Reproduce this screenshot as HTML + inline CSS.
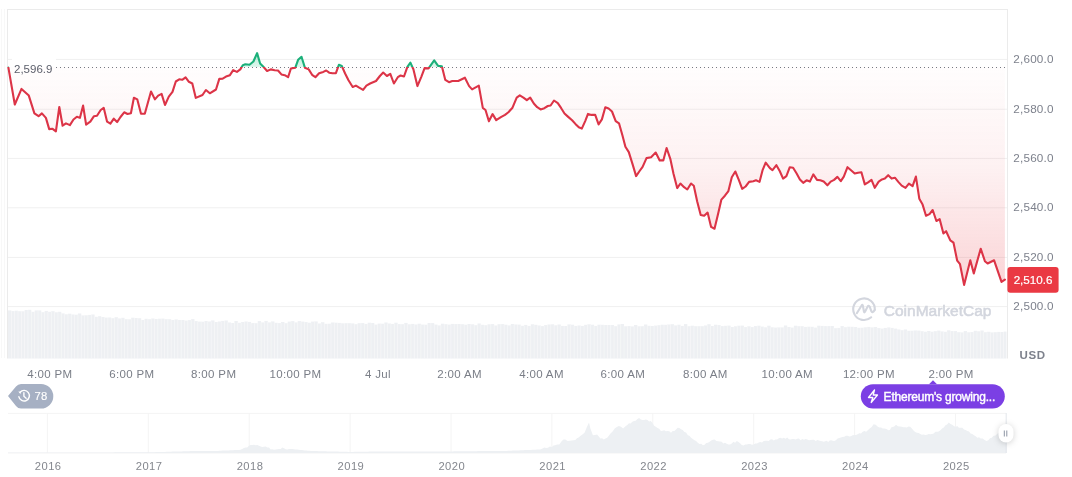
<!DOCTYPE html>
<html><head><meta charset="utf-8">
<style>
html,body{margin:0;padding:0;background:#fff;width:1072px;height:477px;overflow:hidden}
svg{position:absolute;left:0;top:0;display:block;will-change:transform}
text{font-family:"Liberation Sans",sans-serif}
</style></head><body>
<svg width="1072" height="477" viewBox="0 0 1072 477">
<defs>
<linearGradient id="rg" x1="0" y1="67" x2="0" y2="290" gradientUnits="userSpaceOnUse">
<stop offset="0" stop-color="#ea3943" stop-opacity="0.01"/>
<stop offset="0.45" stop-color="#ea3943" stop-opacity="0.07"/>
<stop offset="1" stop-color="#ea3943" stop-opacity="0.22"/>
</linearGradient>
<linearGradient id="gg" x1="0" y1="50" x2="0" y2="67" gradientUnits="userSpaceOnUse">
<stop offset="0" stop-color="#16c784" stop-opacity="0.3"/>
<stop offset="1" stop-color="#16c784" stop-opacity="0.15"/>
</linearGradient>
<clipPath id="below"><rect x="0" y="67.0" width="1072" height="400"/></clipPath>
<clipPath id="above"><rect x="0" y="0" width="1072" height="67.0"/></clipPath>
</defs>
<!-- frame -->
<g stroke="#ebebeb" stroke-width="1" fill="none">
<line x1="7.5" y1="9.5" x2="1007.5" y2="9.5"/>
<line x1="7.5" y1="9" x2="7.5" y2="358.5"/>
<line x1="1007.5" y1="9" x2="1007.5" y2="358.5"/>
</g>
<g stroke="#f8f8f8" stroke-width="1">
<line x1="1.5" y1="9" x2="1.5" y2="358"/>
<line x1="4.5" y1="9" x2="4.5" y2="358"/>
</g>
<!-- grid -->
<g stroke="#f0f0f0" stroke-width="1">
<line x1="8" y1="59.4" x2="1007" y2="59.4"/><line x1="8" y1="109.2" x2="1007" y2="109.2"/><line x1="8" y1="158.4" x2="1007" y2="158.4"/><line x1="8" y1="207.8" x2="1007" y2="207.8"/><line x1="8" y1="257.4" x2="1007" y2="257.4"/><line x1="8" y1="306.6" x2="1007" y2="306.6"/>
</g>
<!-- volume -->
<g>
<rect x="8.00" y="310.4" width="3.33" height="48.1" fill="#eef0f3"/>
<rect x="11.33" y="311.1" width="3.33" height="47.4" fill="#eef0f3"/>
<rect x="14.66" y="310.7" width="3.33" height="47.8" fill="#eef0f3"/>
<rect x="17.99" y="311.2" width="3.33" height="47.3" fill="#eef0f3"/>
<rect x="21.32" y="311.3" width="3.33" height="47.2" fill="#eef0f3"/>
<rect x="24.65" y="310.0" width="3.33" height="48.5" fill="#eef0f3"/>
<rect x="27.98" y="309.8" width="3.33" height="48.7" fill="#eef0f3"/>
<rect x="31.31" y="311.8" width="3.33" height="46.7" fill="#eef0f3"/>
<rect x="34.64" y="310.4" width="3.33" height="48.1" fill="#eef0f3"/>
<rect x="37.97" y="310.4" width="3.33" height="48.1" fill="#eef0f3"/>
<rect x="41.30" y="312.2" width="3.33" height="46.3" fill="#eef0f3"/>
<rect x="44.63" y="310.9" width="3.33" height="47.6" fill="#eef0f3"/>
<rect x="47.96" y="311.8" width="3.33" height="46.7" fill="#eef0f3"/>
<rect x="51.29" y="311.2" width="3.33" height="47.3" fill="#eef0f3"/>
<rect x="54.62" y="312.3" width="3.33" height="46.2" fill="#eef0f3"/>
<rect x="57.95" y="311.8" width="3.33" height="46.7" fill="#eef0f3"/>
<rect x="61.28" y="313.4" width="3.33" height="45.1" fill="#eef0f3"/>
<rect x="64.61" y="314.3" width="3.33" height="44.2" fill="#eef0f3"/>
<rect x="67.94" y="313.7" width="3.33" height="44.8" fill="#eef0f3"/>
<rect x="71.27" y="314.5" width="3.33" height="44.0" fill="#eef0f3"/>
<rect x="74.60" y="314.7" width="3.33" height="43.8" fill="#eef0f3"/>
<rect x="77.93" y="313.5" width="3.33" height="45.0" fill="#eef0f3"/>
<rect x="81.26" y="315.4" width="3.33" height="43.1" fill="#eef0f3"/>
<rect x="84.59" y="315.3" width="3.33" height="43.2" fill="#eef0f3"/>
<rect x="87.92" y="314.9" width="3.33" height="43.6" fill="#eef0f3"/>
<rect x="91.25" y="314.5" width="3.33" height="44.0" fill="#eef0f3"/>
<rect x="94.58" y="316.8" width="3.33" height="41.7" fill="#eef0f3"/>
<rect x="97.91" y="316.2" width="3.33" height="42.3" fill="#eef0f3"/>
<rect x="101.24" y="317.0" width="3.33" height="41.5" fill="#eef0f3"/>
<rect x="104.57" y="317.6" width="3.33" height="40.9" fill="#eef0f3"/>
<rect x="107.90" y="317.5" width="3.33" height="41.0" fill="#eef0f3"/>
<rect x="111.23" y="318.2" width="3.33" height="40.3" fill="#eef0f3"/>
<rect x="114.56" y="317.2" width="3.33" height="41.3" fill="#eef0f3"/>
<rect x="117.89" y="318.4" width="3.33" height="40.1" fill="#eef0f3"/>
<rect x="121.22" y="317.8" width="3.33" height="40.7" fill="#eef0f3"/>
<rect x="124.55" y="319.2" width="3.33" height="39.3" fill="#eef0f3"/>
<rect x="127.88" y="319.3" width="3.33" height="39.2" fill="#eef0f3"/>
<rect x="131.21" y="317.7" width="3.33" height="40.8" fill="#eef0f3"/>
<rect x="134.54" y="318.0" width="3.33" height="40.5" fill="#eef0f3"/>
<rect x="137.87" y="318.2" width="3.33" height="40.3" fill="#eef0f3"/>
<rect x="141.20" y="320.0" width="3.33" height="38.5" fill="#eef0f3"/>
<rect x="144.53" y="318.8" width="3.33" height="39.7" fill="#eef0f3"/>
<rect x="147.86" y="319.2" width="3.33" height="39.3" fill="#eef0f3"/>
<rect x="151.19" y="318.5" width="3.33" height="40.0" fill="#eef0f3"/>
<rect x="154.52" y="319.0" width="3.33" height="39.5" fill="#eef0f3"/>
<rect x="157.85" y="318.7" width="3.33" height="39.8" fill="#eef0f3"/>
<rect x="161.18" y="318.6" width="3.33" height="39.9" fill="#eef0f3"/>
<rect x="164.51" y="319.2" width="3.33" height="39.3" fill="#eef0f3"/>
<rect x="167.84" y="319.2" width="3.33" height="39.3" fill="#eef0f3"/>
<rect x="171.17" y="320.0" width="3.33" height="38.5" fill="#eef0f3"/>
<rect x="174.50" y="319.4" width="3.33" height="39.1" fill="#eef0f3"/>
<rect x="177.83" y="320.0" width="3.33" height="38.5" fill="#eef0f3"/>
<rect x="181.16" y="320.0" width="3.33" height="38.5" fill="#eef0f3"/>
<rect x="184.49" y="320.6" width="3.33" height="37.9" fill="#eef0f3"/>
<rect x="187.82" y="320.1" width="3.33" height="38.4" fill="#eef0f3"/>
<rect x="191.15" y="319.1" width="3.33" height="39.4" fill="#eef0f3"/>
<rect x="194.48" y="321.1" width="3.33" height="37.4" fill="#eef0f3"/>
<rect x="197.81" y="321.6" width="3.33" height="36.9" fill="#eef0f3"/>
<rect x="201.14" y="321.7" width="3.33" height="36.8" fill="#eef0f3"/>
<rect x="204.47" y="321.0" width="3.33" height="37.5" fill="#eef0f3"/>
<rect x="207.80" y="321.5" width="3.33" height="37.0" fill="#eef0f3"/>
<rect x="211.13" y="320.4" width="3.33" height="38.1" fill="#eef0f3"/>
<rect x="214.46" y="322.0" width="3.33" height="36.5" fill="#eef0f3"/>
<rect x="217.79" y="321.5" width="3.33" height="37.0" fill="#eef0f3"/>
<rect x="221.12" y="320.9" width="3.33" height="37.6" fill="#eef0f3"/>
<rect x="224.45" y="320.5" width="3.33" height="38.0" fill="#eef0f3"/>
<rect x="227.78" y="322.5" width="3.33" height="36.0" fill="#eef0f3"/>
<rect x="231.11" y="323.0" width="3.33" height="35.5" fill="#eef0f3"/>
<rect x="234.44" y="321.0" width="3.33" height="37.5" fill="#eef0f3"/>
<rect x="237.77" y="322.8" width="3.33" height="35.7" fill="#eef0f3"/>
<rect x="241.10" y="322.0" width="3.33" height="36.5" fill="#eef0f3"/>
<rect x="244.43" y="321.5" width="3.33" height="37.0" fill="#eef0f3"/>
<rect x="247.76" y="321.9" width="3.33" height="36.6" fill="#eef0f3"/>
<rect x="251.09" y="323.1" width="3.33" height="35.4" fill="#eef0f3"/>
<rect x="254.42" y="323.2" width="3.33" height="35.3" fill="#eef0f3"/>
<rect x="257.75" y="321.1" width="3.33" height="37.4" fill="#eef0f3"/>
<rect x="261.08" y="322.4" width="3.33" height="36.1" fill="#eef0f3"/>
<rect x="264.41" y="320.9" width="3.33" height="37.6" fill="#eef0f3"/>
<rect x="267.74" y="322.4" width="3.33" height="36.1" fill="#eef0f3"/>
<rect x="271.07" y="321.4" width="3.33" height="37.1" fill="#eef0f3"/>
<rect x="274.40" y="322.8" width="3.33" height="35.7" fill="#eef0f3"/>
<rect x="277.73" y="323.1" width="3.33" height="35.4" fill="#eef0f3"/>
<rect x="281.06" y="322.0" width="3.33" height="36.5" fill="#eef0f3"/>
<rect x="284.39" y="323.2" width="3.33" height="35.3" fill="#eef0f3"/>
<rect x="287.72" y="321.6" width="3.33" height="36.9" fill="#eef0f3"/>
<rect x="291.05" y="321.1" width="3.33" height="37.4" fill="#eef0f3"/>
<rect x="294.38" y="322.4" width="3.33" height="36.1" fill="#eef0f3"/>
<rect x="297.71" y="321.1" width="3.33" height="37.4" fill="#eef0f3"/>
<rect x="301.04" y="321.6" width="3.33" height="36.9" fill="#eef0f3"/>
<rect x="304.37" y="322.1" width="3.33" height="36.4" fill="#eef0f3"/>
<rect x="307.70" y="322.7" width="3.33" height="35.8" fill="#eef0f3"/>
<rect x="311.03" y="321.6" width="3.33" height="36.9" fill="#eef0f3"/>
<rect x="314.36" y="321.4" width="3.33" height="37.1" fill="#eef0f3"/>
<rect x="317.69" y="323.5" width="3.33" height="35.0" fill="#eef0f3"/>
<rect x="321.02" y="322.2" width="3.33" height="36.3" fill="#eef0f3"/>
<rect x="324.35" y="323.8" width="3.33" height="34.7" fill="#eef0f3"/>
<rect x="327.68" y="323.7" width="3.33" height="34.8" fill="#eef0f3"/>
<rect x="331.01" y="322.5" width="3.33" height="36.0" fill="#eef0f3"/>
<rect x="334.34" y="322.7" width="3.33" height="35.8" fill="#eef0f3"/>
<rect x="337.67" y="322.9" width="3.33" height="35.6" fill="#eef0f3"/>
<rect x="341.00" y="323.3" width="3.33" height="35.2" fill="#eef0f3"/>
<rect x="344.33" y="323.2" width="3.33" height="35.3" fill="#eef0f3"/>
<rect x="347.66" y="323.2" width="3.33" height="35.3" fill="#eef0f3"/>
<rect x="350.99" y="323.4" width="3.33" height="35.1" fill="#eef0f3"/>
<rect x="354.32" y="324.2" width="3.33" height="34.3" fill="#eef0f3"/>
<rect x="357.65" y="323.2" width="3.33" height="35.3" fill="#eef0f3"/>
<rect x="360.98" y="323.1" width="3.33" height="35.4" fill="#eef0f3"/>
<rect x="364.31" y="323.9" width="3.33" height="34.6" fill="#eef0f3"/>
<rect x="367.64" y="322.7" width="3.33" height="35.8" fill="#eef0f3"/>
<rect x="370.97" y="323.0" width="3.33" height="35.5" fill="#eef0f3"/>
<rect x="374.30" y="324.6" width="3.33" height="33.9" fill="#eef0f3"/>
<rect x="377.63" y="323.6" width="3.33" height="34.9" fill="#eef0f3"/>
<rect x="380.96" y="323.7" width="3.33" height="34.8" fill="#eef0f3"/>
<rect x="384.29" y="322.5" width="3.33" height="36.0" fill="#eef0f3"/>
<rect x="387.62" y="323.5" width="3.33" height="35.0" fill="#eef0f3"/>
<rect x="390.95" y="323.9" width="3.33" height="34.6" fill="#eef0f3"/>
<rect x="394.28" y="322.7" width="3.33" height="35.8" fill="#eef0f3"/>
<rect x="397.61" y="324.1" width="3.33" height="34.4" fill="#eef0f3"/>
<rect x="400.94" y="324.2" width="3.33" height="34.3" fill="#eef0f3"/>
<rect x="404.27" y="322.9" width="3.33" height="35.6" fill="#eef0f3"/>
<rect x="407.60" y="324.3" width="3.33" height="34.2" fill="#eef0f3"/>
<rect x="410.93" y="323.9" width="3.33" height="34.6" fill="#eef0f3"/>
<rect x="414.26" y="324.5" width="3.33" height="34.0" fill="#eef0f3"/>
<rect x="417.59" y="323.7" width="3.33" height="34.8" fill="#eef0f3"/>
<rect x="420.92" y="324.6" width="3.33" height="33.9" fill="#eef0f3"/>
<rect x="424.25" y="324.7" width="3.33" height="33.8" fill="#eef0f3"/>
<rect x="427.58" y="323.0" width="3.33" height="35.5" fill="#eef0f3"/>
<rect x="430.91" y="323.1" width="3.33" height="35.4" fill="#eef0f3"/>
<rect x="434.24" y="324.6" width="3.33" height="33.9" fill="#eef0f3"/>
<rect x="437.57" y="325.4" width="3.33" height="33.1" fill="#eef0f3"/>
<rect x="440.90" y="323.7" width="3.33" height="34.8" fill="#eef0f3"/>
<rect x="444.23" y="324.2" width="3.33" height="34.3" fill="#eef0f3"/>
<rect x="447.56" y="324.6" width="3.33" height="33.9" fill="#eef0f3"/>
<rect x="450.89" y="323.9" width="3.33" height="34.6" fill="#eef0f3"/>
<rect x="454.22" y="324.1" width="3.33" height="34.4" fill="#eef0f3"/>
<rect x="457.55" y="324.0" width="3.33" height="34.5" fill="#eef0f3"/>
<rect x="460.88" y="324.2" width="3.33" height="34.3" fill="#eef0f3"/>
<rect x="464.21" y="324.7" width="3.33" height="33.8" fill="#eef0f3"/>
<rect x="467.54" y="324.0" width="3.33" height="34.5" fill="#eef0f3"/>
<rect x="470.87" y="324.3" width="3.33" height="34.2" fill="#eef0f3"/>
<rect x="474.20" y="325.2" width="3.33" height="33.3" fill="#eef0f3"/>
<rect x="477.53" y="323.5" width="3.33" height="35.0" fill="#eef0f3"/>
<rect x="480.86" y="324.8" width="3.33" height="33.7" fill="#eef0f3"/>
<rect x="484.19" y="325.2" width="3.33" height="33.3" fill="#eef0f3"/>
<rect x="487.52" y="324.3" width="3.33" height="34.2" fill="#eef0f3"/>
<rect x="490.85" y="324.1" width="3.33" height="34.4" fill="#eef0f3"/>
<rect x="494.18" y="325.5" width="3.33" height="33.0" fill="#eef0f3"/>
<rect x="497.51" y="324.2" width="3.33" height="34.3" fill="#eef0f3"/>
<rect x="500.84" y="324.1" width="3.33" height="34.4" fill="#eef0f3"/>
<rect x="504.17" y="324.7" width="3.33" height="33.8" fill="#eef0f3"/>
<rect x="507.50" y="325.4" width="3.33" height="33.1" fill="#eef0f3"/>
<rect x="510.83" y="324.0" width="3.33" height="34.5" fill="#eef0f3"/>
<rect x="514.16" y="324.5" width="3.33" height="34.0" fill="#eef0f3"/>
<rect x="517.49" y="324.6" width="3.33" height="33.9" fill="#eef0f3"/>
<rect x="520.82" y="325.8" width="3.33" height="32.7" fill="#eef0f3"/>
<rect x="524.15" y="324.9" width="3.33" height="33.6" fill="#eef0f3"/>
<rect x="527.48" y="325.9" width="3.33" height="32.6" fill="#eef0f3"/>
<rect x="530.81" y="324.3" width="3.33" height="34.2" fill="#eef0f3"/>
<rect x="534.14" y="324.8" width="3.33" height="33.7" fill="#eef0f3"/>
<rect x="537.47" y="325.5" width="3.33" height="33.0" fill="#eef0f3"/>
<rect x="540.80" y="326.1" width="3.33" height="32.4" fill="#eef0f3"/>
<rect x="544.13" y="325.1" width="3.33" height="33.4" fill="#eef0f3"/>
<rect x="547.46" y="324.5" width="3.33" height="34.0" fill="#eef0f3"/>
<rect x="550.79" y="324.3" width="3.33" height="34.2" fill="#eef0f3"/>
<rect x="554.12" y="325.3" width="3.33" height="33.2" fill="#eef0f3"/>
<rect x="557.45" y="324.5" width="3.33" height="34.0" fill="#eef0f3"/>
<rect x="560.78" y="325.9" width="3.33" height="32.6" fill="#eef0f3"/>
<rect x="564.11" y="326.0" width="3.33" height="32.5" fill="#eef0f3"/>
<rect x="567.44" y="324.4" width="3.33" height="34.1" fill="#eef0f3"/>
<rect x="570.77" y="324.7" width="3.33" height="33.8" fill="#eef0f3"/>
<rect x="574.10" y="325.9" width="3.33" height="32.6" fill="#eef0f3"/>
<rect x="577.43" y="325.5" width="3.33" height="33.0" fill="#eef0f3"/>
<rect x="580.76" y="325.9" width="3.33" height="32.6" fill="#eef0f3"/>
<rect x="584.09" y="324.8" width="3.33" height="33.7" fill="#eef0f3"/>
<rect x="587.42" y="324.3" width="3.33" height="34.2" fill="#eef0f3"/>
<rect x="590.75" y="324.7" width="3.33" height="33.8" fill="#eef0f3"/>
<rect x="594.08" y="325.9" width="3.33" height="32.6" fill="#eef0f3"/>
<rect x="597.41" y="324.7" width="3.33" height="33.8" fill="#eef0f3"/>
<rect x="600.74" y="324.8" width="3.33" height="33.7" fill="#eef0f3"/>
<rect x="604.07" y="325.0" width="3.33" height="33.5" fill="#eef0f3"/>
<rect x="607.40" y="325.0" width="3.33" height="33.5" fill="#eef0f3"/>
<rect x="610.73" y="325.0" width="3.33" height="33.5" fill="#eef0f3"/>
<rect x="614.06" y="326.2" width="3.33" height="32.3" fill="#eef0f3"/>
<rect x="617.39" y="324.4" width="3.33" height="34.1" fill="#eef0f3"/>
<rect x="620.72" y="324.0" width="3.33" height="34.5" fill="#eef0f3"/>
<rect x="624.05" y="326.3" width="3.33" height="32.2" fill="#eef0f3"/>
<rect x="627.38" y="326.1" width="3.33" height="32.4" fill="#eef0f3"/>
<rect x="630.71" y="326.4" width="3.33" height="32.1" fill="#eef0f3"/>
<rect x="634.04" y="325.0" width="3.33" height="33.5" fill="#eef0f3"/>
<rect x="637.37" y="326.3" width="3.33" height="32.2" fill="#eef0f3"/>
<rect x="640.70" y="326.2" width="3.33" height="32.3" fill="#eef0f3"/>
<rect x="644.03" y="324.5" width="3.33" height="34.0" fill="#eef0f3"/>
<rect x="647.36" y="325.8" width="3.33" height="32.7" fill="#eef0f3"/>
<rect x="650.69" y="326.0" width="3.33" height="32.5" fill="#eef0f3"/>
<rect x="654.02" y="325.6" width="3.33" height="32.9" fill="#eef0f3"/>
<rect x="657.35" y="325.2" width="3.33" height="33.3" fill="#eef0f3"/>
<rect x="660.68" y="324.7" width="3.33" height="33.8" fill="#eef0f3"/>
<rect x="664.01" y="324.8" width="3.33" height="33.7" fill="#eef0f3"/>
<rect x="667.34" y="324.5" width="3.33" height="34.0" fill="#eef0f3"/>
<rect x="670.67" y="324.2" width="3.33" height="34.3" fill="#eef0f3"/>
<rect x="674.00" y="325.4" width="3.33" height="33.1" fill="#eef0f3"/>
<rect x="677.33" y="324.7" width="3.33" height="33.8" fill="#eef0f3"/>
<rect x="680.66" y="325.9" width="3.33" height="32.6" fill="#eef0f3"/>
<rect x="683.99" y="324.1" width="3.33" height="34.4" fill="#eef0f3"/>
<rect x="687.32" y="326.2" width="3.33" height="32.3" fill="#eef0f3"/>
<rect x="690.65" y="325.7" width="3.33" height="32.8" fill="#eef0f3"/>
<rect x="693.98" y="326.2" width="3.33" height="32.3" fill="#eef0f3"/>
<rect x="697.31" y="326.2" width="3.33" height="32.3" fill="#eef0f3"/>
<rect x="700.64" y="326.2" width="3.33" height="32.3" fill="#eef0f3"/>
<rect x="703.97" y="325.5" width="3.33" height="33.0" fill="#eef0f3"/>
<rect x="707.30" y="324.2" width="3.33" height="34.3" fill="#eef0f3"/>
<rect x="710.63" y="326.0" width="3.33" height="32.5" fill="#eef0f3"/>
<rect x="713.96" y="324.7" width="3.33" height="33.8" fill="#eef0f3"/>
<rect x="717.29" y="325.1" width="3.33" height="33.4" fill="#eef0f3"/>
<rect x="720.62" y="326.1" width="3.33" height="32.4" fill="#eef0f3"/>
<rect x="723.95" y="325.8" width="3.33" height="32.7" fill="#eef0f3"/>
<rect x="727.28" y="325.6" width="3.33" height="32.9" fill="#eef0f3"/>
<rect x="730.61" y="327.0" width="3.33" height="31.5" fill="#eef0f3"/>
<rect x="733.94" y="326.3" width="3.33" height="32.2" fill="#eef0f3"/>
<rect x="737.27" y="325.7" width="3.33" height="32.8" fill="#eef0f3"/>
<rect x="740.60" y="325.6" width="3.33" height="32.9" fill="#eef0f3"/>
<rect x="743.93" y="327.1" width="3.33" height="31.4" fill="#eef0f3"/>
<rect x="747.26" y="326.3" width="3.33" height="32.2" fill="#eef0f3"/>
<rect x="750.59" y="327.1" width="3.33" height="31.4" fill="#eef0f3"/>
<rect x="753.92" y="326.1" width="3.33" height="32.4" fill="#eef0f3"/>
<rect x="757.25" y="325.7" width="3.33" height="32.8" fill="#eef0f3"/>
<rect x="760.58" y="326.6" width="3.33" height="31.9" fill="#eef0f3"/>
<rect x="763.91" y="327.3" width="3.33" height="31.2" fill="#eef0f3"/>
<rect x="767.24" y="325.7" width="3.33" height="32.8" fill="#eef0f3"/>
<rect x="770.57" y="327.3" width="3.33" height="31.2" fill="#eef0f3"/>
<rect x="773.90" y="327.6" width="3.33" height="30.9" fill="#eef0f3"/>
<rect x="777.23" y="327.4" width="3.33" height="31.1" fill="#eef0f3"/>
<rect x="780.56" y="327.4" width="3.33" height="31.1" fill="#eef0f3"/>
<rect x="783.89" y="325.5" width="3.33" height="33.0" fill="#eef0f3"/>
<rect x="787.22" y="327.0" width="3.33" height="31.5" fill="#eef0f3"/>
<rect x="790.55" y="327.6" width="3.33" height="30.9" fill="#eef0f3"/>
<rect x="793.88" y="325.7" width="3.33" height="32.8" fill="#eef0f3"/>
<rect x="797.21" y="326.2" width="3.33" height="32.3" fill="#eef0f3"/>
<rect x="800.54" y="326.2" width="3.33" height="32.3" fill="#eef0f3"/>
<rect x="803.87" y="326.9" width="3.33" height="31.6" fill="#eef0f3"/>
<rect x="807.20" y="326.7" width="3.33" height="31.8" fill="#eef0f3"/>
<rect x="810.53" y="326.8" width="3.33" height="31.7" fill="#eef0f3"/>
<rect x="813.86" y="327.6" width="3.33" height="30.9" fill="#eef0f3"/>
<rect x="817.19" y="325.7" width="3.33" height="32.8" fill="#eef0f3"/>
<rect x="820.52" y="325.9" width="3.33" height="32.6" fill="#eef0f3"/>
<rect x="823.85" y="326.1" width="3.33" height="32.4" fill="#eef0f3"/>
<rect x="827.18" y="326.1" width="3.33" height="32.4" fill="#eef0f3"/>
<rect x="830.51" y="326.0" width="3.33" height="32.5" fill="#eef0f3"/>
<rect x="833.84" y="328.2" width="3.33" height="30.3" fill="#eef0f3"/>
<rect x="837.17" y="327.9" width="3.33" height="30.6" fill="#eef0f3"/>
<rect x="840.50" y="326.1" width="3.33" height="32.4" fill="#eef0f3"/>
<rect x="843.83" y="327.2" width="3.33" height="31.3" fill="#eef0f3"/>
<rect x="847.16" y="326.7" width="3.33" height="31.8" fill="#eef0f3"/>
<rect x="850.49" y="326.8" width="3.33" height="31.7" fill="#eef0f3"/>
<rect x="853.82" y="327.0" width="3.33" height="31.5" fill="#eef0f3"/>
<rect x="857.15" y="327.8" width="3.33" height="30.7" fill="#eef0f3"/>
<rect x="860.48" y="327.7" width="3.33" height="30.8" fill="#eef0f3"/>
<rect x="863.81" y="327.3" width="3.33" height="31.2" fill="#eef0f3"/>
<rect x="867.14" y="326.9" width="3.33" height="31.6" fill="#eef0f3"/>
<rect x="870.47" y="327.4" width="3.33" height="31.1" fill="#eef0f3"/>
<rect x="873.80" y="327.0" width="3.33" height="31.5" fill="#eef0f3"/>
<rect x="877.13" y="328.1" width="3.33" height="30.4" fill="#eef0f3"/>
<rect x="880.46" y="328.6" width="3.33" height="29.9" fill="#eef0f3"/>
<rect x="883.79" y="327.9" width="3.33" height="30.6" fill="#eef0f3"/>
<rect x="887.12" y="327.4" width="3.33" height="31.1" fill="#eef0f3"/>
<rect x="890.45" y="327.9" width="3.33" height="30.6" fill="#eef0f3"/>
<rect x="893.78" y="328.6" width="3.33" height="29.9" fill="#eef0f3"/>
<rect x="897.11" y="329.5" width="3.33" height="29.0" fill="#eef0f3"/>
<rect x="900.44" y="330.2" width="3.33" height="28.3" fill="#eef0f3"/>
<rect x="903.77" y="329.5" width="3.33" height="29.0" fill="#eef0f3"/>
<rect x="907.10" y="330.8" width="3.33" height="27.7" fill="#eef0f3"/>
<rect x="910.43" y="330.7" width="3.33" height="27.8" fill="#eef0f3"/>
<rect x="913.76" y="330.5" width="3.33" height="28.0" fill="#eef0f3"/>
<rect x="917.09" y="330.6" width="3.33" height="27.9" fill="#eef0f3"/>
<rect x="920.42" y="331.2" width="3.33" height="27.3" fill="#eef0f3"/>
<rect x="923.75" y="331.7" width="3.33" height="26.8" fill="#eef0f3"/>
<rect x="927.08" y="331.0" width="3.33" height="27.5" fill="#eef0f3"/>
<rect x="930.41" y="331.7" width="3.33" height="26.8" fill="#eef0f3"/>
<rect x="933.74" y="331.2" width="3.33" height="27.3" fill="#eef0f3"/>
<rect x="937.07" y="330.6" width="3.33" height="27.9" fill="#eef0f3"/>
<rect x="940.40" y="331.4" width="3.33" height="27.1" fill="#eef0f3"/>
<rect x="943.73" y="331.8" width="3.33" height="26.7" fill="#eef0f3"/>
<rect x="947.06" y="330.3" width="3.33" height="28.2" fill="#eef0f3"/>
<rect x="950.39" y="331.1" width="3.33" height="27.4" fill="#eef0f3"/>
<rect x="953.72" y="331.1" width="3.33" height="27.4" fill="#eef0f3"/>
<rect x="957.05" y="332.2" width="3.33" height="26.3" fill="#eef0f3"/>
<rect x="960.38" y="332.4" width="3.33" height="26.1" fill="#eef0f3"/>
<rect x="963.71" y="331.1" width="3.33" height="27.4" fill="#eef0f3"/>
<rect x="967.04" y="332.3" width="3.33" height="26.2" fill="#eef0f3"/>
<rect x="970.37" y="332.1" width="3.33" height="26.4" fill="#eef0f3"/>
<rect x="973.70" y="330.8" width="3.33" height="27.7" fill="#eef0f3"/>
<rect x="977.03" y="331.3" width="3.33" height="27.2" fill="#eef0f3"/>
<rect x="980.36" y="330.5" width="3.33" height="28.0" fill="#eef0f3"/>
<rect x="983.69" y="332.2" width="3.33" height="26.3" fill="#eef0f3"/>
<rect x="987.02" y="331.8" width="3.33" height="26.7" fill="#eef0f3"/>
<rect x="990.35" y="332.4" width="3.33" height="26.1" fill="#eef0f3"/>
<rect x="993.68" y="332.2" width="3.33" height="26.3" fill="#eef0f3"/>
<rect x="997.01" y="331.9" width="3.33" height="26.6" fill="#eef0f3"/>
<rect x="1000.34" y="332.0" width="3.33" height="26.5" fill="#eef0f3"/>
<rect x="1003.67" y="331.6" width="2.83" height="26.9" fill="#eef0f3"/>
<rect x="10.98" y="311.1" width="0.7" height="47.4" fill="#f6f7f8"/>
<rect x="14.31" y="311.1" width="0.7" height="47.4" fill="#f6f7f8"/>
<rect x="17.64" y="311.2" width="0.7" height="47.3" fill="#f6f7f8"/>
<rect x="20.97" y="311.3" width="0.7" height="47.2" fill="#f6f7f8"/>
<rect x="24.30" y="311.3" width="0.7" height="47.2" fill="#f6f7f8"/>
<rect x="27.63" y="310.0" width="0.7" height="48.5" fill="#f6f7f8"/>
<rect x="30.96" y="311.8" width="0.7" height="46.7" fill="#f6f7f8"/>
<rect x="34.29" y="311.8" width="0.7" height="46.7" fill="#f6f7f8"/>
<rect x="37.62" y="310.4" width="0.7" height="48.1" fill="#f6f7f8"/>
<rect x="40.95" y="312.2" width="0.7" height="46.3" fill="#f6f7f8"/>
<rect x="44.28" y="312.2" width="0.7" height="46.3" fill="#f6f7f8"/>
<rect x="47.61" y="311.8" width="0.7" height="46.7" fill="#f6f7f8"/>
<rect x="50.94" y="311.8" width="0.7" height="46.7" fill="#f6f7f8"/>
<rect x="54.27" y="312.3" width="0.7" height="46.2" fill="#f6f7f8"/>
<rect x="57.60" y="312.3" width="0.7" height="46.2" fill="#f6f7f8"/>
<rect x="60.93" y="313.4" width="0.7" height="45.1" fill="#f6f7f8"/>
<rect x="64.26" y="314.3" width="0.7" height="44.2" fill="#f6f7f8"/>
<rect x="67.59" y="314.3" width="0.7" height="44.2" fill="#f6f7f8"/>
<rect x="70.92" y="314.5" width="0.7" height="44.0" fill="#f6f7f8"/>
<rect x="74.25" y="314.7" width="0.7" height="43.8" fill="#f6f7f8"/>
<rect x="77.58" y="314.7" width="0.7" height="43.8" fill="#f6f7f8"/>
<rect x="80.91" y="315.4" width="0.7" height="43.1" fill="#f6f7f8"/>
<rect x="84.24" y="315.4" width="0.7" height="43.1" fill="#f6f7f8"/>
<rect x="87.57" y="315.3" width="0.7" height="43.2" fill="#f6f7f8"/>
<rect x="90.90" y="314.9" width="0.7" height="43.6" fill="#f6f7f8"/>
<rect x="94.23" y="316.8" width="0.7" height="41.7" fill="#f6f7f8"/>
<rect x="97.56" y="316.8" width="0.7" height="41.7" fill="#f6f7f8"/>
<rect x="100.89" y="317.0" width="0.7" height="41.5" fill="#f6f7f8"/>
<rect x="104.22" y="317.6" width="0.7" height="40.9" fill="#f6f7f8"/>
<rect x="107.55" y="317.6" width="0.7" height="40.9" fill="#f6f7f8"/>
<rect x="110.88" y="318.2" width="0.7" height="40.3" fill="#f6f7f8"/>
<rect x="114.21" y="318.2" width="0.7" height="40.3" fill="#f6f7f8"/>
<rect x="117.54" y="318.4" width="0.7" height="40.1" fill="#f6f7f8"/>
<rect x="120.87" y="318.4" width="0.7" height="40.1" fill="#f6f7f8"/>
<rect x="124.20" y="319.2" width="0.7" height="39.3" fill="#f6f7f8"/>
<rect x="127.53" y="319.3" width="0.7" height="39.2" fill="#f6f7f8"/>
<rect x="130.86" y="319.3" width="0.7" height="39.2" fill="#f6f7f8"/>
<rect x="134.19" y="318.0" width="0.7" height="40.5" fill="#f6f7f8"/>
<rect x="137.52" y="318.2" width="0.7" height="40.3" fill="#f6f7f8"/>
<rect x="140.85" y="320.0" width="0.7" height="38.5" fill="#f6f7f8"/>
<rect x="144.18" y="320.0" width="0.7" height="38.5" fill="#f6f7f8"/>
<rect x="147.51" y="319.2" width="0.7" height="39.3" fill="#f6f7f8"/>
<rect x="150.84" y="319.2" width="0.7" height="39.3" fill="#f6f7f8"/>
<rect x="154.17" y="319.0" width="0.7" height="39.5" fill="#f6f7f8"/>
<rect x="157.50" y="319.0" width="0.7" height="39.5" fill="#f6f7f8"/>
<rect x="160.83" y="318.7" width="0.7" height="39.8" fill="#f6f7f8"/>
<rect x="164.16" y="319.2" width="0.7" height="39.3" fill="#f6f7f8"/>
<rect x="167.49" y="319.2" width="0.7" height="39.3" fill="#f6f7f8"/>
<rect x="170.82" y="320.0" width="0.7" height="38.5" fill="#f6f7f8"/>
<rect x="174.15" y="320.0" width="0.7" height="38.5" fill="#f6f7f8"/>
<rect x="177.48" y="320.0" width="0.7" height="38.5" fill="#f6f7f8"/>
<rect x="180.81" y="320.0" width="0.7" height="38.5" fill="#f6f7f8"/>
<rect x="184.14" y="320.6" width="0.7" height="37.9" fill="#f6f7f8"/>
<rect x="187.47" y="320.6" width="0.7" height="37.9" fill="#f6f7f8"/>
<rect x="190.80" y="320.1" width="0.7" height="38.4" fill="#f6f7f8"/>
<rect x="194.13" y="321.1" width="0.7" height="37.4" fill="#f6f7f8"/>
<rect x="197.46" y="321.6" width="0.7" height="36.9" fill="#f6f7f8"/>
<rect x="200.79" y="321.7" width="0.7" height="36.8" fill="#f6f7f8"/>
<rect x="204.12" y="321.7" width="0.7" height="36.8" fill="#f6f7f8"/>
<rect x="207.45" y="321.5" width="0.7" height="37.0" fill="#f6f7f8"/>
<rect x="210.78" y="321.5" width="0.7" height="37.0" fill="#f6f7f8"/>
<rect x="214.11" y="322.0" width="0.7" height="36.5" fill="#f6f7f8"/>
<rect x="217.44" y="322.0" width="0.7" height="36.5" fill="#f6f7f8"/>
<rect x="220.77" y="321.5" width="0.7" height="37.0" fill="#f6f7f8"/>
<rect x="224.10" y="320.9" width="0.7" height="37.6" fill="#f6f7f8"/>
<rect x="227.43" y="322.5" width="0.7" height="36.0" fill="#f6f7f8"/>
<rect x="230.76" y="323.0" width="0.7" height="35.5" fill="#f6f7f8"/>
<rect x="234.09" y="323.0" width="0.7" height="35.5" fill="#f6f7f8"/>
<rect x="237.42" y="322.8" width="0.7" height="35.7" fill="#f6f7f8"/>
<rect x="240.75" y="322.8" width="0.7" height="35.7" fill="#f6f7f8"/>
<rect x="244.08" y="322.0" width="0.7" height="36.5" fill="#f6f7f8"/>
<rect x="247.41" y="321.9" width="0.7" height="36.6" fill="#f6f7f8"/>
<rect x="250.74" y="323.1" width="0.7" height="35.4" fill="#f6f7f8"/>
<rect x="254.07" y="323.2" width="0.7" height="35.3" fill="#f6f7f8"/>
<rect x="257.40" y="323.2" width="0.7" height="35.3" fill="#f6f7f8"/>
<rect x="260.73" y="322.4" width="0.7" height="36.1" fill="#f6f7f8"/>
<rect x="264.06" y="322.4" width="0.7" height="36.1" fill="#f6f7f8"/>
<rect x="267.39" y="322.4" width="0.7" height="36.1" fill="#f6f7f8"/>
<rect x="270.72" y="322.4" width="0.7" height="36.1" fill="#f6f7f8"/>
<rect x="274.05" y="322.8" width="0.7" height="35.7" fill="#f6f7f8"/>
<rect x="277.38" y="323.1" width="0.7" height="35.4" fill="#f6f7f8"/>
<rect x="280.71" y="323.1" width="0.7" height="35.4" fill="#f6f7f8"/>
<rect x="284.04" y="323.2" width="0.7" height="35.3" fill="#f6f7f8"/>
<rect x="287.37" y="323.2" width="0.7" height="35.3" fill="#f6f7f8"/>
<rect x="290.70" y="321.6" width="0.7" height="36.9" fill="#f6f7f8"/>
<rect x="294.03" y="322.4" width="0.7" height="36.1" fill="#f6f7f8"/>
<rect x="297.36" y="322.4" width="0.7" height="36.1" fill="#f6f7f8"/>
<rect x="300.69" y="321.6" width="0.7" height="36.9" fill="#f6f7f8"/>
<rect x="304.02" y="322.1" width="0.7" height="36.4" fill="#f6f7f8"/>
<rect x="307.35" y="322.7" width="0.7" height="35.8" fill="#f6f7f8"/>
<rect x="310.68" y="322.7" width="0.7" height="35.8" fill="#f6f7f8"/>
<rect x="314.01" y="321.6" width="0.7" height="36.9" fill="#f6f7f8"/>
<rect x="317.34" y="323.5" width="0.7" height="35.0" fill="#f6f7f8"/>
<rect x="320.67" y="323.5" width="0.7" height="35.0" fill="#f6f7f8"/>
<rect x="324.00" y="323.8" width="0.7" height="34.7" fill="#f6f7f8"/>
<rect x="327.33" y="323.8" width="0.7" height="34.7" fill="#f6f7f8"/>
<rect x="330.66" y="323.7" width="0.7" height="34.8" fill="#f6f7f8"/>
<rect x="333.99" y="322.7" width="0.7" height="35.8" fill="#f6f7f8"/>
<rect x="337.32" y="322.9" width="0.7" height="35.6" fill="#f6f7f8"/>
<rect x="340.65" y="323.3" width="0.7" height="35.2" fill="#f6f7f8"/>
<rect x="343.98" y="323.3" width="0.7" height="35.2" fill="#f6f7f8"/>
<rect x="347.31" y="323.2" width="0.7" height="35.3" fill="#f6f7f8"/>
<rect x="350.64" y="323.4" width="0.7" height="35.1" fill="#f6f7f8"/>
<rect x="353.97" y="324.2" width="0.7" height="34.3" fill="#f6f7f8"/>
<rect x="357.30" y="324.2" width="0.7" height="34.3" fill="#f6f7f8"/>
<rect x="360.63" y="323.2" width="0.7" height="35.3" fill="#f6f7f8"/>
<rect x="363.96" y="323.9" width="0.7" height="34.6" fill="#f6f7f8"/>
<rect x="367.29" y="323.9" width="0.7" height="34.6" fill="#f6f7f8"/>
<rect x="370.62" y="323.0" width="0.7" height="35.5" fill="#f6f7f8"/>
<rect x="373.95" y="324.6" width="0.7" height="33.9" fill="#f6f7f8"/>
<rect x="377.28" y="324.6" width="0.7" height="33.9" fill="#f6f7f8"/>
<rect x="380.61" y="323.7" width="0.7" height="34.8" fill="#f6f7f8"/>
<rect x="383.94" y="323.7" width="0.7" height="34.8" fill="#f6f7f8"/>
<rect x="387.27" y="323.5" width="0.7" height="35.0" fill="#f6f7f8"/>
<rect x="390.60" y="323.9" width="0.7" height="34.6" fill="#f6f7f8"/>
<rect x="393.93" y="323.9" width="0.7" height="34.6" fill="#f6f7f8"/>
<rect x="397.26" y="324.1" width="0.7" height="34.4" fill="#f6f7f8"/>
<rect x="400.59" y="324.2" width="0.7" height="34.3" fill="#f6f7f8"/>
<rect x="403.92" y="324.2" width="0.7" height="34.3" fill="#f6f7f8"/>
<rect x="407.25" y="324.3" width="0.7" height="34.2" fill="#f6f7f8"/>
<rect x="410.58" y="324.3" width="0.7" height="34.2" fill="#f6f7f8"/>
<rect x="413.91" y="324.5" width="0.7" height="34.0" fill="#f6f7f8"/>
<rect x="417.24" y="324.5" width="0.7" height="34.0" fill="#f6f7f8"/>
<rect x="420.57" y="324.6" width="0.7" height="33.9" fill="#f6f7f8"/>
<rect x="423.90" y="324.7" width="0.7" height="33.8" fill="#f6f7f8"/>
<rect x="427.23" y="324.7" width="0.7" height="33.8" fill="#f6f7f8"/>
<rect x="430.56" y="323.1" width="0.7" height="35.4" fill="#f6f7f8"/>
<rect x="433.89" y="324.6" width="0.7" height="33.9" fill="#f6f7f8"/>
<rect x="437.22" y="325.4" width="0.7" height="33.1" fill="#f6f7f8"/>
<rect x="440.55" y="325.4" width="0.7" height="33.1" fill="#f6f7f8"/>
<rect x="443.88" y="324.2" width="0.7" height="34.3" fill="#f6f7f8"/>
<rect x="447.21" y="324.6" width="0.7" height="33.9" fill="#f6f7f8"/>
<rect x="450.54" y="324.6" width="0.7" height="33.9" fill="#f6f7f8"/>
<rect x="453.87" y="324.1" width="0.7" height="34.4" fill="#f6f7f8"/>
<rect x="457.20" y="324.1" width="0.7" height="34.4" fill="#f6f7f8"/>
<rect x="460.53" y="324.2" width="0.7" height="34.3" fill="#f6f7f8"/>
<rect x="463.86" y="324.7" width="0.7" height="33.8" fill="#f6f7f8"/>
<rect x="467.19" y="324.7" width="0.7" height="33.8" fill="#f6f7f8"/>
<rect x="470.52" y="324.3" width="0.7" height="34.2" fill="#f6f7f8"/>
<rect x="473.85" y="325.2" width="0.7" height="33.3" fill="#f6f7f8"/>
<rect x="477.18" y="325.2" width="0.7" height="33.3" fill="#f6f7f8"/>
<rect x="480.51" y="324.8" width="0.7" height="33.7" fill="#f6f7f8"/>
<rect x="483.84" y="325.2" width="0.7" height="33.3" fill="#f6f7f8"/>
<rect x="487.17" y="325.2" width="0.7" height="33.3" fill="#f6f7f8"/>
<rect x="490.50" y="324.3" width="0.7" height="34.2" fill="#f6f7f8"/>
<rect x="493.83" y="325.5" width="0.7" height="33.0" fill="#f6f7f8"/>
<rect x="497.16" y="325.5" width="0.7" height="33.0" fill="#f6f7f8"/>
<rect x="500.49" y="324.2" width="0.7" height="34.3" fill="#f6f7f8"/>
<rect x="503.82" y="324.7" width="0.7" height="33.8" fill="#f6f7f8"/>
<rect x="507.15" y="325.4" width="0.7" height="33.1" fill="#f6f7f8"/>
<rect x="510.48" y="325.4" width="0.7" height="33.1" fill="#f6f7f8"/>
<rect x="513.81" y="324.5" width="0.7" height="34.0" fill="#f6f7f8"/>
<rect x="517.14" y="324.6" width="0.7" height="33.9" fill="#f6f7f8"/>
<rect x="520.47" y="325.8" width="0.7" height="32.7" fill="#f6f7f8"/>
<rect x="523.80" y="325.8" width="0.7" height="32.7" fill="#f6f7f8"/>
<rect x="527.13" y="325.9" width="0.7" height="32.6" fill="#f6f7f8"/>
<rect x="530.46" y="325.9" width="0.7" height="32.6" fill="#f6f7f8"/>
<rect x="533.79" y="324.8" width="0.7" height="33.7" fill="#f6f7f8"/>
<rect x="537.12" y="325.5" width="0.7" height="33.0" fill="#f6f7f8"/>
<rect x="540.45" y="326.1" width="0.7" height="32.4" fill="#f6f7f8"/>
<rect x="543.78" y="326.1" width="0.7" height="32.4" fill="#f6f7f8"/>
<rect x="547.11" y="325.1" width="0.7" height="33.4" fill="#f6f7f8"/>
<rect x="550.44" y="324.5" width="0.7" height="34.0" fill="#f6f7f8"/>
<rect x="553.77" y="325.3" width="0.7" height="33.2" fill="#f6f7f8"/>
<rect x="557.10" y="325.3" width="0.7" height="33.2" fill="#f6f7f8"/>
<rect x="560.43" y="325.9" width="0.7" height="32.6" fill="#f6f7f8"/>
<rect x="563.76" y="326.0" width="0.7" height="32.5" fill="#f6f7f8"/>
<rect x="567.09" y="326.0" width="0.7" height="32.5" fill="#f6f7f8"/>
<rect x="570.42" y="324.7" width="0.7" height="33.8" fill="#f6f7f8"/>
<rect x="573.75" y="325.9" width="0.7" height="32.6" fill="#f6f7f8"/>
<rect x="577.08" y="325.9" width="0.7" height="32.6" fill="#f6f7f8"/>
<rect x="580.41" y="325.9" width="0.7" height="32.6" fill="#f6f7f8"/>
<rect x="583.74" y="325.9" width="0.7" height="32.6" fill="#f6f7f8"/>
<rect x="587.07" y="324.8" width="0.7" height="33.7" fill="#f6f7f8"/>
<rect x="590.40" y="324.7" width="0.7" height="33.8" fill="#f6f7f8"/>
<rect x="593.73" y="325.9" width="0.7" height="32.6" fill="#f6f7f8"/>
<rect x="597.06" y="325.9" width="0.7" height="32.6" fill="#f6f7f8"/>
<rect x="600.39" y="324.8" width="0.7" height="33.7" fill="#f6f7f8"/>
<rect x="603.72" y="325.0" width="0.7" height="33.5" fill="#f6f7f8"/>
<rect x="607.05" y="325.0" width="0.7" height="33.5" fill="#f6f7f8"/>
<rect x="610.38" y="325.0" width="0.7" height="33.5" fill="#f6f7f8"/>
<rect x="613.71" y="326.2" width="0.7" height="32.3" fill="#f6f7f8"/>
<rect x="617.04" y="326.2" width="0.7" height="32.3" fill="#f6f7f8"/>
<rect x="620.37" y="324.4" width="0.7" height="34.1" fill="#f6f7f8"/>
<rect x="623.70" y="326.3" width="0.7" height="32.2" fill="#f6f7f8"/>
<rect x="627.03" y="326.3" width="0.7" height="32.2" fill="#f6f7f8"/>
<rect x="630.36" y="326.4" width="0.7" height="32.1" fill="#f6f7f8"/>
<rect x="633.69" y="326.4" width="0.7" height="32.1" fill="#f6f7f8"/>
<rect x="637.02" y="326.3" width="0.7" height="32.2" fill="#f6f7f8"/>
<rect x="640.35" y="326.3" width="0.7" height="32.2" fill="#f6f7f8"/>
<rect x="643.68" y="326.2" width="0.7" height="32.3" fill="#f6f7f8"/>
<rect x="647.01" y="325.8" width="0.7" height="32.7" fill="#f6f7f8"/>
<rect x="650.34" y="326.0" width="0.7" height="32.5" fill="#f6f7f8"/>
<rect x="653.67" y="326.0" width="0.7" height="32.5" fill="#f6f7f8"/>
<rect x="657.00" y="325.6" width="0.7" height="32.9" fill="#f6f7f8"/>
<rect x="660.33" y="325.2" width="0.7" height="33.3" fill="#f6f7f8"/>
<rect x="663.66" y="324.8" width="0.7" height="33.7" fill="#f6f7f8"/>
<rect x="666.99" y="324.8" width="0.7" height="33.7" fill="#f6f7f8"/>
<rect x="670.32" y="324.5" width="0.7" height="34.0" fill="#f6f7f8"/>
<rect x="673.65" y="325.4" width="0.7" height="33.1" fill="#f6f7f8"/>
<rect x="676.98" y="325.4" width="0.7" height="33.1" fill="#f6f7f8"/>
<rect x="680.31" y="325.9" width="0.7" height="32.6" fill="#f6f7f8"/>
<rect x="683.64" y="325.9" width="0.7" height="32.6" fill="#f6f7f8"/>
<rect x="686.97" y="326.2" width="0.7" height="32.3" fill="#f6f7f8"/>
<rect x="690.30" y="326.2" width="0.7" height="32.3" fill="#f6f7f8"/>
<rect x="693.63" y="326.2" width="0.7" height="32.3" fill="#f6f7f8"/>
<rect x="696.96" y="326.2" width="0.7" height="32.3" fill="#f6f7f8"/>
<rect x="700.29" y="326.2" width="0.7" height="32.3" fill="#f6f7f8"/>
<rect x="703.62" y="326.2" width="0.7" height="32.3" fill="#f6f7f8"/>
<rect x="706.95" y="325.5" width="0.7" height="33.0" fill="#f6f7f8"/>
<rect x="710.28" y="326.0" width="0.7" height="32.5" fill="#f6f7f8"/>
<rect x="713.61" y="326.0" width="0.7" height="32.5" fill="#f6f7f8"/>
<rect x="716.94" y="325.1" width="0.7" height="33.4" fill="#f6f7f8"/>
<rect x="720.27" y="326.1" width="0.7" height="32.4" fill="#f6f7f8"/>
<rect x="723.60" y="326.1" width="0.7" height="32.4" fill="#f6f7f8"/>
<rect x="726.93" y="325.8" width="0.7" height="32.7" fill="#f6f7f8"/>
<rect x="730.26" y="327.0" width="0.7" height="31.5" fill="#f6f7f8"/>
<rect x="733.59" y="327.0" width="0.7" height="31.5" fill="#f6f7f8"/>
<rect x="736.92" y="326.3" width="0.7" height="32.2" fill="#f6f7f8"/>
<rect x="740.25" y="325.7" width="0.7" height="32.8" fill="#f6f7f8"/>
<rect x="743.58" y="327.1" width="0.7" height="31.4" fill="#f6f7f8"/>
<rect x="746.91" y="327.1" width="0.7" height="31.4" fill="#f6f7f8"/>
<rect x="750.24" y="327.1" width="0.7" height="31.4" fill="#f6f7f8"/>
<rect x="753.57" y="327.1" width="0.7" height="31.4" fill="#f6f7f8"/>
<rect x="756.90" y="326.1" width="0.7" height="32.4" fill="#f6f7f8"/>
<rect x="760.23" y="326.6" width="0.7" height="31.9" fill="#f6f7f8"/>
<rect x="763.56" y="327.3" width="0.7" height="31.2" fill="#f6f7f8"/>
<rect x="766.89" y="327.3" width="0.7" height="31.2" fill="#f6f7f8"/>
<rect x="770.22" y="327.3" width="0.7" height="31.2" fill="#f6f7f8"/>
<rect x="773.55" y="327.6" width="0.7" height="30.9" fill="#f6f7f8"/>
<rect x="776.88" y="327.6" width="0.7" height="30.9" fill="#f6f7f8"/>
<rect x="780.21" y="327.4" width="0.7" height="31.1" fill="#f6f7f8"/>
<rect x="783.54" y="327.4" width="0.7" height="31.1" fill="#f6f7f8"/>
<rect x="786.87" y="327.0" width="0.7" height="31.5" fill="#f6f7f8"/>
<rect x="790.20" y="327.6" width="0.7" height="30.9" fill="#f6f7f8"/>
<rect x="793.53" y="327.6" width="0.7" height="30.9" fill="#f6f7f8"/>
<rect x="796.86" y="326.2" width="0.7" height="32.3" fill="#f6f7f8"/>
<rect x="800.19" y="326.2" width="0.7" height="32.3" fill="#f6f7f8"/>
<rect x="803.52" y="326.9" width="0.7" height="31.6" fill="#f6f7f8"/>
<rect x="806.85" y="326.9" width="0.7" height="31.6" fill="#f6f7f8"/>
<rect x="810.18" y="326.8" width="0.7" height="31.7" fill="#f6f7f8"/>
<rect x="813.51" y="327.6" width="0.7" height="30.9" fill="#f6f7f8"/>
<rect x="816.84" y="327.6" width="0.7" height="30.9" fill="#f6f7f8"/>
<rect x="820.17" y="325.9" width="0.7" height="32.6" fill="#f6f7f8"/>
<rect x="823.50" y="326.1" width="0.7" height="32.4" fill="#f6f7f8"/>
<rect x="826.83" y="326.1" width="0.7" height="32.4" fill="#f6f7f8"/>
<rect x="830.16" y="326.1" width="0.7" height="32.4" fill="#f6f7f8"/>
<rect x="833.49" y="328.2" width="0.7" height="30.3" fill="#f6f7f8"/>
<rect x="836.82" y="328.2" width="0.7" height="30.3" fill="#f6f7f8"/>
<rect x="840.15" y="327.9" width="0.7" height="30.6" fill="#f6f7f8"/>
<rect x="843.48" y="327.2" width="0.7" height="31.3" fill="#f6f7f8"/>
<rect x="846.81" y="327.2" width="0.7" height="31.3" fill="#f6f7f8"/>
<rect x="850.14" y="326.8" width="0.7" height="31.7" fill="#f6f7f8"/>
<rect x="853.47" y="327.0" width="0.7" height="31.5" fill="#f6f7f8"/>
<rect x="856.80" y="327.8" width="0.7" height="30.7" fill="#f6f7f8"/>
<rect x="860.13" y="327.8" width="0.7" height="30.7" fill="#f6f7f8"/>
<rect x="863.46" y="327.7" width="0.7" height="30.8" fill="#f6f7f8"/>
<rect x="866.79" y="327.3" width="0.7" height="31.2" fill="#f6f7f8"/>
<rect x="870.12" y="327.4" width="0.7" height="31.1" fill="#f6f7f8"/>
<rect x="873.45" y="327.4" width="0.7" height="31.1" fill="#f6f7f8"/>
<rect x="876.78" y="328.1" width="0.7" height="30.4" fill="#f6f7f8"/>
<rect x="880.11" y="328.6" width="0.7" height="29.9" fill="#f6f7f8"/>
<rect x="883.44" y="328.6" width="0.7" height="29.9" fill="#f6f7f8"/>
<rect x="886.77" y="327.9" width="0.7" height="30.6" fill="#f6f7f8"/>
<rect x="890.10" y="327.9" width="0.7" height="30.6" fill="#f6f7f8"/>
<rect x="893.43" y="328.6" width="0.7" height="29.9" fill="#f6f7f8"/>
<rect x="896.76" y="329.5" width="0.7" height="29.0" fill="#f6f7f8"/>
<rect x="900.09" y="330.2" width="0.7" height="28.3" fill="#f6f7f8"/>
<rect x="903.42" y="330.2" width="0.7" height="28.3" fill="#f6f7f8"/>
<rect x="906.75" y="330.8" width="0.7" height="27.7" fill="#f6f7f8"/>
<rect x="910.08" y="330.8" width="0.7" height="27.7" fill="#f6f7f8"/>
<rect x="913.41" y="330.7" width="0.7" height="27.8" fill="#f6f7f8"/>
<rect x="916.74" y="330.6" width="0.7" height="27.9" fill="#f6f7f8"/>
<rect x="920.07" y="331.2" width="0.7" height="27.3" fill="#f6f7f8"/>
<rect x="923.40" y="331.7" width="0.7" height="26.8" fill="#f6f7f8"/>
<rect x="926.73" y="331.7" width="0.7" height="26.8" fill="#f6f7f8"/>
<rect x="930.06" y="331.7" width="0.7" height="26.8" fill="#f6f7f8"/>
<rect x="933.39" y="331.7" width="0.7" height="26.8" fill="#f6f7f8"/>
<rect x="936.72" y="331.2" width="0.7" height="27.3" fill="#f6f7f8"/>
<rect x="940.05" y="331.4" width="0.7" height="27.1" fill="#f6f7f8"/>
<rect x="943.38" y="331.8" width="0.7" height="26.7" fill="#f6f7f8"/>
<rect x="946.71" y="331.8" width="0.7" height="26.7" fill="#f6f7f8"/>
<rect x="950.04" y="331.1" width="0.7" height="27.4" fill="#f6f7f8"/>
<rect x="953.37" y="331.1" width="0.7" height="27.4" fill="#f6f7f8"/>
<rect x="956.70" y="332.2" width="0.7" height="26.3" fill="#f6f7f8"/>
<rect x="960.03" y="332.4" width="0.7" height="26.1" fill="#f6f7f8"/>
<rect x="963.36" y="332.4" width="0.7" height="26.1" fill="#f6f7f8"/>
<rect x="966.69" y="332.3" width="0.7" height="26.2" fill="#f6f7f8"/>
<rect x="970.02" y="332.3" width="0.7" height="26.2" fill="#f6f7f8"/>
<rect x="973.35" y="332.1" width="0.7" height="26.4" fill="#f6f7f8"/>
<rect x="976.68" y="331.3" width="0.7" height="27.2" fill="#f6f7f8"/>
<rect x="980.01" y="331.3" width="0.7" height="27.2" fill="#f6f7f8"/>
<rect x="983.34" y="332.2" width="0.7" height="26.3" fill="#f6f7f8"/>
<rect x="986.67" y="332.2" width="0.7" height="26.3" fill="#f6f7f8"/>
<rect x="990.00" y="332.4" width="0.7" height="26.1" fill="#f6f7f8"/>
<rect x="993.33" y="332.4" width="0.7" height="26.1" fill="#f6f7f8"/>
<rect x="996.66" y="332.2" width="0.7" height="26.3" fill="#f6f7f8"/>
<rect x="999.99" y="332.0" width="0.7" height="26.5" fill="#f6f7f8"/>
<rect x="1003.32" y="332.0" width="0.7" height="26.5" fill="#f6f7f8"/>
</g>
<!-- watermark -->
<g>
<path d="M874.8,309.8 A10.8,10.8 0 1 0 871.2,317.3" fill="none" stroke="#d3d6de" stroke-width="2.1" stroke-linecap="round"/>
<path d="M856.8,313.2 L861.8,305.2 Q862.4,304.4 862.8,305.4 L864,311.8 Q864.3,313 865,311.8 L867.6,306.6 Q868.6,305 869.8,306.8 L871.4,311.4 Q872.4,313.4 874.8,309.8" fill="none" stroke="#d3d6de" stroke-width="2.1" stroke-linejoin="round" stroke-linecap="round"/>
<text x="883.8" y="315.8" font-size="15.5" fill="#d3d6de" stroke="#d3d6de" stroke-width="0.55">CoinMarketCap</text>
</g>
<!-- base label bg -->
<rect x="12" y="57.5" width="44" height="18" fill="#fff"/>
<text x="14" y="72.8" font-size="11.5" fill="#5a5f6b">2,596.9</text>
<!-- fills -->
<path d="M8.4,67.6 L14.8,104.5 L21.5,88.9 L28.8,95.6 L34.4,113.4 L38.6,116.2 L41.9,113.4 L45.9,117.9 L49.2,129.1 L52.6,128.8 L55.9,131.3 L59.3,107.0 L62.6,125.7 L66.0,123.4 L69.9,125.1 L73.5,119.5 L76.9,116.7 L79.9,117.9 L83.1,105.6 L86.1,124.6 L90.3,121.7 L94.0,116.2 L97.0,115.8 L100.7,110.0 L103.7,107.8 L107.1,121.7 L110.4,123.7 L113.8,118.7 L117.1,122.1 L120.5,117.0 L124.2,112.3 L127.5,114.0 L130.9,113.3 L133.9,97.7 L137.3,99.4 L141.0,113.7 L144.8,113.7 L151.0,91.5 L154.9,99.4 L158.2,95.6 L161.6,93.9 L165.0,105.0 L168.8,96.6 L172.5,91.9 L175.8,81.5 L179.2,79.3 L182.2,79.8 L185.6,77.3 L188.9,81.8 L192.3,83.5 L195.8,97.9 L202.5,95.0 L205.9,90.0 L209.8,93.3 L216.0,89.5 L219.3,78.9 L222.7,78.6 L226.0,76.6 L229.9,75.2 L233.2,70.2 L236.9,71.9 L240.3,69.4 L242.8,65.2 L245.3,64.3 L249.5,64.8 L253.4,61.5 L257.1,53.1 L260.1,63.5 L263.4,66.8 L267.1,71.0 L270.8,69.4 L274.7,70.2 L278.0,70.5 L281.4,74.4 L284.7,75.2 L288.1,77.2 L290.9,68.5 L295.3,67.7 L298.1,59.8 L301.5,56.8 L304.9,67.7 L308.7,69.4 L312.4,75.2 L315.4,77.2 L319.1,73.2 L323.3,71.9 L326.2,70.5 L329.2,72.7 L332.5,73.2 L335.9,73.2 L338.9,64.8 L341.8,66.0 L345.1,73.5 L348.5,80.3 L352.7,87.0 L355.9,85.6 L359.2,87.7 L363.1,89.9 L366.4,85.6 L370.1,83.5 L376.0,81.0 L379.9,76.0 L383.2,72.6 L386.9,76.0 L390.3,73.8 L393.9,83.5 L397.8,77.2 L400.6,75.5 L404.0,76.5 L407.4,66.8 L410.4,62.6 L413.4,69.3 L417.4,86.1 L421.3,76.8 L424.6,68.1 L428.5,68.4 L434.2,60.4 L438.1,65.9 L441.9,66.4 L445.3,79.9 L449.0,82.2 L452.3,81.0 L458.2,81.0 L464.9,77.7 L469.1,86.1 L472.1,89.4 L478.8,85.6 L482.8,107.9 L485.5,110.0 L488.9,121.3 L492.6,114.1 L496.2,120.1 L500.9,117.1 L505.0,114.9 L508.4,112.2 L512.5,107.7 L516.7,97.6 L519.8,95.4 L523.4,97.6 L526.8,100.1 L530.2,97.6 L533.8,103.5 L537.2,107.2 L540.6,109.4 L544.4,108.2 L547.8,106.0 L550.6,105.5 L554.0,100.5 L557.8,103.1 L561.2,108.2 L564.5,113.5 L567.9,116.6 L572.1,120.3 L575.4,123.9 L578.8,127.3 L581.8,128.6 L585.2,121.1 L588.0,113.9 L591.4,114.9 L595.2,114.9 L598.6,124.4 L601.9,119.4 L605.3,107.2 L608.6,108.5 L612.0,111.5 L615.7,121.1 L619.0,123.3 L622.4,135.3 L625.4,146.8 L628.8,152.1 L632.7,164.6 L636.1,176.1 L639.6,171.0 L642.6,166.9 L646.5,158.1 L651.1,157.2 L655.7,152.6 L659.7,160.4 L663.3,160.4 L666.6,148.0 L670.3,158.8 L673.5,173.8 L677.2,188.1 L680.4,183.5 L684.1,187.2 L687.3,189.5 L691.0,183.5 L693.8,185.8 L697.2,201.5 L700.7,214.9 L704.2,215.8 L707.6,212.6 L711.1,226.9 L714.5,228.7 L718.0,214.2 L721.4,199.6 L724.9,195.7 L728.4,191.1 L731.8,177.3 L735.3,171.5 L738.7,179.6 L742.2,188.8 L745.6,186.5 L749.1,181.9 L753.3,181.2 L756.0,180.3 L759.5,181.9 L762.5,170.4 L765.7,162.7 L769.9,168.1 L772.5,170.2 L776.4,165.2 L779.7,171.0 L783.1,178.6 L786.4,176.1 L789.8,167.2 L793.1,167.7 L796.5,173.2 L799.9,179.4 L803.2,182.8 L806.6,180.3 L809.9,181.6 L813.3,174.4 L817.0,179.9 L820.3,180.3 L823.7,181.6 L827.4,185.3 L830.7,181.6 L834.1,179.9 L837.4,176.9 L840.8,181.1 L843.8,176.6 L847.5,167.2 L851.3,170.5 L854.7,173.5 L858.0,172.7 L861.4,172.2 L864.8,184.4 L868.1,182.3 L871.5,179.9 L874.8,187.8 L878.7,181.6 L882.0,179.4 L884.9,178.6 L888.2,175.2 L891.6,178.6 L894.9,177.7 L898.3,181.9 L901.7,185.6 L905.5,187.8 L908.9,183.6 L912.6,186.1 L915.9,176.6 L919.3,198.7 L922.6,204.6 L926.0,215.8 L929.5,214.1 L932.7,210.0 L936.4,221.0 L939.7,219.2 L943.4,233.5 L946.1,231.2 L950.3,240.4 L953.5,242.7 L957.2,260.7 L960.0,264.2 L964.1,284.9 L970.3,260.3 L973.8,273.4 L980.7,248.7 L984.9,261.2 L987.6,263.5 L994.1,260.3 L1001.5,281.9 L1004.9,279.6 L1004.9,67.0 L8.4,67.0 Z" fill="url(#rg)" clip-path="url(#below)"/>
<path d="M8.4,67.6 L14.8,104.5 L21.5,88.9 L28.8,95.6 L34.4,113.4 L38.6,116.2 L41.9,113.4 L45.9,117.9 L49.2,129.1 L52.6,128.8 L55.9,131.3 L59.3,107.0 L62.6,125.7 L66.0,123.4 L69.9,125.1 L73.5,119.5 L76.9,116.7 L79.9,117.9 L83.1,105.6 L86.1,124.6 L90.3,121.7 L94.0,116.2 L97.0,115.8 L100.7,110.0 L103.7,107.8 L107.1,121.7 L110.4,123.7 L113.8,118.7 L117.1,122.1 L120.5,117.0 L124.2,112.3 L127.5,114.0 L130.9,113.3 L133.9,97.7 L137.3,99.4 L141.0,113.7 L144.8,113.7 L151.0,91.5 L154.9,99.4 L158.2,95.6 L161.6,93.9 L165.0,105.0 L168.8,96.6 L172.5,91.9 L175.8,81.5 L179.2,79.3 L182.2,79.8 L185.6,77.3 L188.9,81.8 L192.3,83.5 L195.8,97.9 L202.5,95.0 L205.9,90.0 L209.8,93.3 L216.0,89.5 L219.3,78.9 L222.7,78.6 L226.0,76.6 L229.9,75.2 L233.2,70.2 L236.9,71.9 L240.3,69.4 L242.8,65.2 L245.3,64.3 L249.5,64.8 L253.4,61.5 L257.1,53.1 L260.1,63.5 L263.4,66.8 L267.1,71.0 L270.8,69.4 L274.7,70.2 L278.0,70.5 L281.4,74.4 L284.7,75.2 L288.1,77.2 L290.9,68.5 L295.3,67.7 L298.1,59.8 L301.5,56.8 L304.9,67.7 L308.7,69.4 L312.4,75.2 L315.4,77.2 L319.1,73.2 L323.3,71.9 L326.2,70.5 L329.2,72.7 L332.5,73.2 L335.9,73.2 L338.9,64.8 L341.8,66.0 L345.1,73.5 L348.5,80.3 L352.7,87.0 L355.9,85.6 L359.2,87.7 L363.1,89.9 L366.4,85.6 L370.1,83.5 L376.0,81.0 L379.9,76.0 L383.2,72.6 L386.9,76.0 L390.3,73.8 L393.9,83.5 L397.8,77.2 L400.6,75.5 L404.0,76.5 L407.4,66.8 L410.4,62.6 L413.4,69.3 L417.4,86.1 L421.3,76.8 L424.6,68.1 L428.5,68.4 L434.2,60.4 L438.1,65.9 L441.9,66.4 L445.3,79.9 L449.0,82.2 L452.3,81.0 L458.2,81.0 L464.9,77.7 L469.1,86.1 L472.1,89.4 L478.8,85.6 L482.8,107.9 L485.5,110.0 L488.9,121.3 L492.6,114.1 L496.2,120.1 L500.9,117.1 L505.0,114.9 L508.4,112.2 L512.5,107.7 L516.7,97.6 L519.8,95.4 L523.4,97.6 L526.8,100.1 L530.2,97.6 L533.8,103.5 L537.2,107.2 L540.6,109.4 L544.4,108.2 L547.8,106.0 L550.6,105.5 L554.0,100.5 L557.8,103.1 L561.2,108.2 L564.5,113.5 L567.9,116.6 L572.1,120.3 L575.4,123.9 L578.8,127.3 L581.8,128.6 L585.2,121.1 L588.0,113.9 L591.4,114.9 L595.2,114.9 L598.6,124.4 L601.9,119.4 L605.3,107.2 L608.6,108.5 L612.0,111.5 L615.7,121.1 L619.0,123.3 L622.4,135.3 L625.4,146.8 L628.8,152.1 L632.7,164.6 L636.1,176.1 L639.6,171.0 L642.6,166.9 L646.5,158.1 L651.1,157.2 L655.7,152.6 L659.7,160.4 L663.3,160.4 L666.6,148.0 L670.3,158.8 L673.5,173.8 L677.2,188.1 L680.4,183.5 L684.1,187.2 L687.3,189.5 L691.0,183.5 L693.8,185.8 L697.2,201.5 L700.7,214.9 L704.2,215.8 L707.6,212.6 L711.1,226.9 L714.5,228.7 L718.0,214.2 L721.4,199.6 L724.9,195.7 L728.4,191.1 L731.8,177.3 L735.3,171.5 L738.7,179.6 L742.2,188.8 L745.6,186.5 L749.1,181.9 L753.3,181.2 L756.0,180.3 L759.5,181.9 L762.5,170.4 L765.7,162.7 L769.9,168.1 L772.5,170.2 L776.4,165.2 L779.7,171.0 L783.1,178.6 L786.4,176.1 L789.8,167.2 L793.1,167.7 L796.5,173.2 L799.9,179.4 L803.2,182.8 L806.6,180.3 L809.9,181.6 L813.3,174.4 L817.0,179.9 L820.3,180.3 L823.7,181.6 L827.4,185.3 L830.7,181.6 L834.1,179.9 L837.4,176.9 L840.8,181.1 L843.8,176.6 L847.5,167.2 L851.3,170.5 L854.7,173.5 L858.0,172.7 L861.4,172.2 L864.8,184.4 L868.1,182.3 L871.5,179.9 L874.8,187.8 L878.7,181.6 L882.0,179.4 L884.9,178.6 L888.2,175.2 L891.6,178.6 L894.9,177.7 L898.3,181.9 L901.7,185.6 L905.5,187.8 L908.9,183.6 L912.6,186.1 L915.9,176.6 L919.3,198.7 L922.6,204.6 L926.0,215.8 L929.5,214.1 L932.7,210.0 L936.4,221.0 L939.7,219.2 L943.4,233.5 L946.1,231.2 L950.3,240.4 L953.5,242.7 L957.2,260.7 L960.0,264.2 L964.1,284.9 L970.3,260.3 L973.8,273.4 L980.7,248.7 L984.9,261.2 L987.6,263.5 L994.1,260.3 L1001.5,281.9 L1004.9,279.6 L1004.9,67.0 L8.4,67.0 Z" fill="url(#gg)" clip-path="url(#above)"/>
<!-- baseline -->
<line x1="56" y1="67.5" x2="1007" y2="67.5" stroke="#777a82" stroke-width="1" stroke-dasharray="1 3"/>
<!-- line -->
<path d="M8.4,67.6 L14.8,104.5 L21.5,88.9 L28.8,95.6 L34.4,113.4 L38.6,116.2 L41.9,113.4 L45.9,117.9 L49.2,129.1 L52.6,128.8 L55.9,131.3 L59.3,107.0 L62.6,125.7 L66.0,123.4 L69.9,125.1 L73.5,119.5 L76.9,116.7 L79.9,117.9 L83.1,105.6 L86.1,124.6 L90.3,121.7 L94.0,116.2 L97.0,115.8 L100.7,110.0 L103.7,107.8 L107.1,121.7 L110.4,123.7 L113.8,118.7 L117.1,122.1 L120.5,117.0 L124.2,112.3 L127.5,114.0 L130.9,113.3 L133.9,97.7 L137.3,99.4 L141.0,113.7 L144.8,113.7 L151.0,91.5 L154.9,99.4 L158.2,95.6 L161.6,93.9 L165.0,105.0 L168.8,96.6 L172.5,91.9 L175.8,81.5 L179.2,79.3 L182.2,79.8 L185.6,77.3 L188.9,81.8 L192.3,83.5 L195.8,97.9 L202.5,95.0 L205.9,90.0 L209.8,93.3 L216.0,89.5 L219.3,78.9 L222.7,78.6 L226.0,76.6 L229.9,75.2 L233.2,70.2 L236.9,71.9 L240.3,69.4 L242.8,65.2 L245.3,64.3 L249.5,64.8 L253.4,61.5 L257.1,53.1 L260.1,63.5 L263.4,66.8 L267.1,71.0 L270.8,69.4 L274.7,70.2 L278.0,70.5 L281.4,74.4 L284.7,75.2 L288.1,77.2 L290.9,68.5 L295.3,67.7 L298.1,59.8 L301.5,56.8 L304.9,67.7 L308.7,69.4 L312.4,75.2 L315.4,77.2 L319.1,73.2 L323.3,71.9 L326.2,70.5 L329.2,72.7 L332.5,73.2 L335.9,73.2 L338.9,64.8 L341.8,66.0 L345.1,73.5 L348.5,80.3 L352.7,87.0 L355.9,85.6 L359.2,87.7 L363.1,89.9 L366.4,85.6 L370.1,83.5 L376.0,81.0 L379.9,76.0 L383.2,72.6 L386.9,76.0 L390.3,73.8 L393.9,83.5 L397.8,77.2 L400.6,75.5 L404.0,76.5 L407.4,66.8 L410.4,62.6 L413.4,69.3 L417.4,86.1 L421.3,76.8 L424.6,68.1 L428.5,68.4 L434.2,60.4 L438.1,65.9 L441.9,66.4 L445.3,79.9 L449.0,82.2 L452.3,81.0 L458.2,81.0 L464.9,77.7 L469.1,86.1 L472.1,89.4 L478.8,85.6 L482.8,107.9 L485.5,110.0 L488.9,121.3 L492.6,114.1 L496.2,120.1 L500.9,117.1 L505.0,114.9 L508.4,112.2 L512.5,107.7 L516.7,97.6 L519.8,95.4 L523.4,97.6 L526.8,100.1 L530.2,97.6 L533.8,103.5 L537.2,107.2 L540.6,109.4 L544.4,108.2 L547.8,106.0 L550.6,105.5 L554.0,100.5 L557.8,103.1 L561.2,108.2 L564.5,113.5 L567.9,116.6 L572.1,120.3 L575.4,123.9 L578.8,127.3 L581.8,128.6 L585.2,121.1 L588.0,113.9 L591.4,114.9 L595.2,114.9 L598.6,124.4 L601.9,119.4 L605.3,107.2 L608.6,108.5 L612.0,111.5 L615.7,121.1 L619.0,123.3 L622.4,135.3 L625.4,146.8 L628.8,152.1 L632.7,164.6 L636.1,176.1 L639.6,171.0 L642.6,166.9 L646.5,158.1 L651.1,157.2 L655.7,152.6 L659.7,160.4 L663.3,160.4 L666.6,148.0 L670.3,158.8 L673.5,173.8 L677.2,188.1 L680.4,183.5 L684.1,187.2 L687.3,189.5 L691.0,183.5 L693.8,185.8 L697.2,201.5 L700.7,214.9 L704.2,215.8 L707.6,212.6 L711.1,226.9 L714.5,228.7 L718.0,214.2 L721.4,199.6 L724.9,195.7 L728.4,191.1 L731.8,177.3 L735.3,171.5 L738.7,179.6 L742.2,188.8 L745.6,186.5 L749.1,181.9 L753.3,181.2 L756.0,180.3 L759.5,181.9 L762.5,170.4 L765.7,162.7 L769.9,168.1 L772.5,170.2 L776.4,165.2 L779.7,171.0 L783.1,178.6 L786.4,176.1 L789.8,167.2 L793.1,167.7 L796.5,173.2 L799.9,179.4 L803.2,182.8 L806.6,180.3 L809.9,181.6 L813.3,174.4 L817.0,179.9 L820.3,180.3 L823.7,181.6 L827.4,185.3 L830.7,181.6 L834.1,179.9 L837.4,176.9 L840.8,181.1 L843.8,176.6 L847.5,167.2 L851.3,170.5 L854.7,173.5 L858.0,172.7 L861.4,172.2 L864.8,184.4 L868.1,182.3 L871.5,179.9 L874.8,187.8 L878.7,181.6 L882.0,179.4 L884.9,178.6 L888.2,175.2 L891.6,178.6 L894.9,177.7 L898.3,181.9 L901.7,185.6 L905.5,187.8 L908.9,183.6 L912.6,186.1 L915.9,176.6 L919.3,198.7 L922.6,204.6 L926.0,215.8 L929.5,214.1 L932.7,210.0 L936.4,221.0 L939.7,219.2 L943.4,233.5 L946.1,231.2 L950.3,240.4 L953.5,242.7 L957.2,260.7 L960.0,264.2 L964.1,284.9 L970.3,260.3 L973.8,273.4 L980.7,248.7 L984.9,261.2 L987.6,263.5 L994.1,260.3 L1001.5,281.9 L1004.9,279.6" fill="none" stroke="#dc3447" stroke-width="2.1" stroke-linejoin="round" stroke-linecap="round" clip-path="url(#below)"/>
<path d="M8.4,67.6 L14.8,104.5 L21.5,88.9 L28.8,95.6 L34.4,113.4 L38.6,116.2 L41.9,113.4 L45.9,117.9 L49.2,129.1 L52.6,128.8 L55.9,131.3 L59.3,107.0 L62.6,125.7 L66.0,123.4 L69.9,125.1 L73.5,119.5 L76.9,116.7 L79.9,117.9 L83.1,105.6 L86.1,124.6 L90.3,121.7 L94.0,116.2 L97.0,115.8 L100.7,110.0 L103.7,107.8 L107.1,121.7 L110.4,123.7 L113.8,118.7 L117.1,122.1 L120.5,117.0 L124.2,112.3 L127.5,114.0 L130.9,113.3 L133.9,97.7 L137.3,99.4 L141.0,113.7 L144.8,113.7 L151.0,91.5 L154.9,99.4 L158.2,95.6 L161.6,93.9 L165.0,105.0 L168.8,96.6 L172.5,91.9 L175.8,81.5 L179.2,79.3 L182.2,79.8 L185.6,77.3 L188.9,81.8 L192.3,83.5 L195.8,97.9 L202.5,95.0 L205.9,90.0 L209.8,93.3 L216.0,89.5 L219.3,78.9 L222.7,78.6 L226.0,76.6 L229.9,75.2 L233.2,70.2 L236.9,71.9 L240.3,69.4 L242.8,65.2 L245.3,64.3 L249.5,64.8 L253.4,61.5 L257.1,53.1 L260.1,63.5 L263.4,66.8 L267.1,71.0 L270.8,69.4 L274.7,70.2 L278.0,70.5 L281.4,74.4 L284.7,75.2 L288.1,77.2 L290.9,68.5 L295.3,67.7 L298.1,59.8 L301.5,56.8 L304.9,67.7 L308.7,69.4 L312.4,75.2 L315.4,77.2 L319.1,73.2 L323.3,71.9 L326.2,70.5 L329.2,72.7 L332.5,73.2 L335.9,73.2 L338.9,64.8 L341.8,66.0 L345.1,73.5 L348.5,80.3 L352.7,87.0 L355.9,85.6 L359.2,87.7 L363.1,89.9 L366.4,85.6 L370.1,83.5 L376.0,81.0 L379.9,76.0 L383.2,72.6 L386.9,76.0 L390.3,73.8 L393.9,83.5 L397.8,77.2 L400.6,75.5 L404.0,76.5 L407.4,66.8 L410.4,62.6 L413.4,69.3 L417.4,86.1 L421.3,76.8 L424.6,68.1 L428.5,68.4 L434.2,60.4 L438.1,65.9 L441.9,66.4 L445.3,79.9 L449.0,82.2 L452.3,81.0 L458.2,81.0 L464.9,77.7 L469.1,86.1 L472.1,89.4 L478.8,85.6 L482.8,107.9 L485.5,110.0 L488.9,121.3 L492.6,114.1 L496.2,120.1 L500.9,117.1 L505.0,114.9 L508.4,112.2 L512.5,107.7 L516.7,97.6 L519.8,95.4 L523.4,97.6 L526.8,100.1 L530.2,97.6 L533.8,103.5 L537.2,107.2 L540.6,109.4 L544.4,108.2 L547.8,106.0 L550.6,105.5 L554.0,100.5 L557.8,103.1 L561.2,108.2 L564.5,113.5 L567.9,116.6 L572.1,120.3 L575.4,123.9 L578.8,127.3 L581.8,128.6 L585.2,121.1 L588.0,113.9 L591.4,114.9 L595.2,114.9 L598.6,124.4 L601.9,119.4 L605.3,107.2 L608.6,108.5 L612.0,111.5 L615.7,121.1 L619.0,123.3 L622.4,135.3 L625.4,146.8 L628.8,152.1 L632.7,164.6 L636.1,176.1 L639.6,171.0 L642.6,166.9 L646.5,158.1 L651.1,157.2 L655.7,152.6 L659.7,160.4 L663.3,160.4 L666.6,148.0 L670.3,158.8 L673.5,173.8 L677.2,188.1 L680.4,183.5 L684.1,187.2 L687.3,189.5 L691.0,183.5 L693.8,185.8 L697.2,201.5 L700.7,214.9 L704.2,215.8 L707.6,212.6 L711.1,226.9 L714.5,228.7 L718.0,214.2 L721.4,199.6 L724.9,195.7 L728.4,191.1 L731.8,177.3 L735.3,171.5 L738.7,179.6 L742.2,188.8 L745.6,186.5 L749.1,181.9 L753.3,181.2 L756.0,180.3 L759.5,181.9 L762.5,170.4 L765.7,162.7 L769.9,168.1 L772.5,170.2 L776.4,165.2 L779.7,171.0 L783.1,178.6 L786.4,176.1 L789.8,167.2 L793.1,167.7 L796.5,173.2 L799.9,179.4 L803.2,182.8 L806.6,180.3 L809.9,181.6 L813.3,174.4 L817.0,179.9 L820.3,180.3 L823.7,181.6 L827.4,185.3 L830.7,181.6 L834.1,179.9 L837.4,176.9 L840.8,181.1 L843.8,176.6 L847.5,167.2 L851.3,170.5 L854.7,173.5 L858.0,172.7 L861.4,172.2 L864.8,184.4 L868.1,182.3 L871.5,179.9 L874.8,187.8 L878.7,181.6 L882.0,179.4 L884.9,178.6 L888.2,175.2 L891.6,178.6 L894.9,177.7 L898.3,181.9 L901.7,185.6 L905.5,187.8 L908.9,183.6 L912.6,186.1 L915.9,176.6 L919.3,198.7 L922.6,204.6 L926.0,215.8 L929.5,214.1 L932.7,210.0 L936.4,221.0 L939.7,219.2 L943.4,233.5 L946.1,231.2 L950.3,240.4 L953.5,242.7 L957.2,260.7 L960.0,264.2 L964.1,284.9 L970.3,260.3 L973.8,273.4 L980.7,248.7 L984.9,261.2 L987.6,263.5 L994.1,260.3 L1001.5,281.9 L1004.9,279.6" fill="none" stroke="#1cb07a" stroke-width="2.1" stroke-linejoin="round" stroke-linecap="round" clip-path="url(#above)"/>
<!-- base label -->

<!-- y labels -->
<g font-size="11.7" fill="#7d818c" letter-spacing="0.2">
<text x="1013.3" y="62.8">2,600.0</text><text x="1013.3" y="112.6">2,580.0</text><text x="1013.3" y="161.8">2,560.0</text><text x="1013.3" y="211.2">2,540.0</text><text x="1013.3" y="260.8">2,520.0</text><text x="1013.3" y="310.0">2,500.0</text>
</g>
<!-- price tag -->
<rect x="1007.4" y="267.1" width="51.2" height="25.6" rx="3" fill="#ea3943"/>
<text x="1033" y="284.3" font-size="11.6" fill="#fff" stroke="#fff" stroke-width="0.2" text-anchor="middle">2,510.6</text>
<!-- USD -->
<text x="1019.5" y="358.8" font-size="11.5" font-weight="bold" fill="#7d818c" letter-spacing="0.6">USD</text>
<!-- x labels -->
<g font-size="11.5" fill="#7a7e87" letter-spacing="0.35">
<text x="49.9" y="378" text-anchor="middle">4:00 PM</text>
<text x="131.9" y="378" text-anchor="middle">6:00 PM</text>
<text x="213.7" y="378" text-anchor="middle">8:00 PM</text>
<text x="295.5" y="378" text-anchor="middle">10:00 PM</text>
<text x="377.9" y="378" text-anchor="middle">4 Jul</text>
<text x="459.6" y="378" text-anchor="middle">2:00 AM</text>
<text x="541.5" y="378" text-anchor="middle">4:00 AM</text>
<text x="622.9" y="378" text-anchor="middle">6:00 AM</text>
<text x="705.4" y="378" text-anchor="middle">8:00 AM</text>
<text x="787.3" y="378" text-anchor="middle">10:00 AM</text>
<text x="868.9" y="378" text-anchor="middle">12:00 PM</text>
<text x="951.1" y="378" text-anchor="middle">2:00 PM</text>
</g>
<!-- 78 badge -->
<path d="M8,396 L16,386.5 Q18,384 21,384 L41,384 A12.3,12.3 0 0 1 41,408.6 L21,408.6 Q18,408.6 16,406 Z" fill="#a6b0c3"/>
<g fill="none" stroke="#fff" stroke-width="1.4" stroke-linecap="round">
<path d="M18.9,396.8 A5.3,5.3 0 1 0 20.1,392.2"/>
<path d="M23.9,392.8 L23.9,396.3 L26.1,398.2"/>
</g>
<path d="M18.3,391.5 L20.8,391.8 L20.5,394.2 Z" fill="#fff"/>
<text x="34.6" y="399.8" font-size="11.3" fill="#fff" stroke="#fff" stroke-width="0.15">78</text>
<!-- navigator -->
<g stroke="#f4f4f4" stroke-width="1">
<line x1="8" y1="413.4" x2="1006" y2="413.4"/>
<line x1="8" y1="453" x2="1006" y2="453"/>
<line x1="47.4" y1="413" x2="47.4" y2="453"/>
<line x1="148.3" y1="413" x2="148.3" y2="453"/>
<line x1="249.2" y1="413" x2="249.2" y2="453"/>
<line x1="350.1" y1="413" x2="350.1" y2="453"/>
<line x1="451.0" y1="413" x2="451.0" y2="453"/>
<line x1="551.9" y1="413" x2="551.9" y2="453"/>
<line x1="652.8" y1="413" x2="652.8" y2="453"/>
<line x1="753.7" y1="413" x2="753.7" y2="453"/>
<line x1="854.6" y1="413" x2="854.6" y2="453"/>
<line x1="955.5" y1="413" x2="955.5" y2="453"/>
</g>
<path d="M8.0,452.5 L9.5,452.5 L11.0,452.5 L12.5,452.5 L14.0,452.5 L15.6,452.5 L17.1,452.5 L18.6,452.5 L20.1,452.5 L21.6,452.5 L23.1,452.5 L24.6,452.5 L26.1,452.5 L27.6,452.5 L29.1,452.5 L30.7,452.5 L32.2,452.5 L33.7,452.5 L35.2,452.5 L36.7,452.5 L38.2,452.5 L39.7,452.5 L41.2,452.5 L42.7,452.5 L44.3,452.4 L45.8,452.4 L47.3,452.4 L48.8,452.4 L50.3,452.4 L51.8,452.4 L53.3,452.4 L54.8,452.4 L56.3,452.4 L57.9,452.4 L59.4,452.4 L60.9,452.4 L62.4,452.4 L63.9,452.4 L65.4,452.4 L66.9,452.4 L68.4,452.4 L69.9,452.4 L71.4,452.4 L73.0,452.4 L74.5,452.4 L76.0,452.4 L77.5,452.4 L79.0,452.4 L80.5,452.4 L82.0,452.4 L83.5,452.4 L85.0,452.4 L86.6,452.4 L88.1,452.4 L89.6,452.4 L91.1,452.4 L92.6,452.4 L94.1,452.4 L95.6,452.4 L97.1,452.4 L98.6,452.4 L100.1,452.4 L101.7,452.4 L103.2,452.4 L104.7,452.4 L106.2,452.4 L107.7,452.4 L109.2,452.4 L110.7,452.4 L112.2,452.4 L113.7,452.4 L115.3,452.3 L116.8,452.3 L118.3,452.3 L119.8,452.3 L121.3,452.3 L122.8,452.3 L124.3,452.3 L125.8,452.3 L127.3,452.3 L128.9,452.3 L130.4,452.3 L131.9,452.3 L133.4,452.3 L134.9,452.3 L136.4,452.3 L137.9,452.3 L139.4,452.3 L140.9,452.3 L142.4,452.3 L144.0,452.3 L145.5,452.3 L147.0,452.3 L148.5,452.3 L150.0,452.3 L151.5,452.3 L153.0,452.2 L154.5,452.2 L156.0,452.1 L157.5,452.1 L159.0,452.0 L160.5,452.0 L162.0,452.0 L163.5,451.9 L165.0,451.9 L166.5,451.8 L168.0,451.8 L169.5,451.7 L171.0,451.7 L172.5,451.6 L174.0,451.6 L175.5,451.6 L177.0,451.5 L178.5,451.5 L180.0,451.4 L181.5,451.4 L183.0,451.3 L184.5,451.3 L186.0,451.3 L187.5,451.2 L189.0,451.2 L190.5,451.1 L192.0,451.1 L193.5,451.0 L195.0,451.0 L196.5,451.0 L198.1,451.0 L199.6,451.0 L201.2,451.0 L202.7,451.0 L204.2,451.0 L205.8,451.0 L207.3,451.0 L208.8,451.0 L210.4,451.0 L211.9,451.0 L213.5,451.0 L215.0,451.0 L216.5,450.9 L218.0,450.9 L219.5,450.8 L221.0,450.7 L222.5,450.6 L224.0,450.6 L225.5,450.5 L227.0,450.4 L228.5,450.4 L230.0,450.3 L231.5,450.2 L233.0,450.2 L234.5,450.1 L236.0,450.0 L237.5,449.9 L239.0,449.9 L240.5,449.8 L242.2,449.0 L243.9,448.1 L245.6,447.6 L247.2,447.4 L248.9,445.8 L250.6,445.1 L252.3,445.0 L254.0,444.8 L255.7,445.3 L257.3,444.9 L259.0,445.8 L260.7,446.4 L262.3,447.0 L264.0,446.8 L265.7,446.6 L267.3,447.4 L269.0,447.6 L270.7,449.4 L272.3,449.3 L274.0,449.8 L275.7,449.5 L277.3,449.3 L279.0,449.0 L280.7,449.1 L282.3,447.6 L284.0,448.2 L285.7,449.3 L287.3,449.4 L289.0,449.0 L290.7,449.1 L292.3,449.1 L294.0,449.3 L295.5,449.5 L297.1,449.6 L298.6,449.8 L300.2,449.9 L301.7,450.1 L303.3,450.2 L304.8,450.4 L306.4,450.5 L307.9,450.7 L309.5,450.8 L311.0,451.0 L312.5,451.0 L314.0,451.1 L315.5,451.1 L317.0,451.1 L318.5,451.2 L320.0,451.2 L321.5,451.2 L323.0,451.3 L324.5,451.3 L326.0,451.3 L327.5,451.4 L329.0,451.4 L330.5,451.4 L332.0,451.5 L333.5,451.5 L335.0,451.6 L336.5,451.6 L338.0,451.6 L339.5,451.7 L341.0,451.7 L342.5,451.7 L344.0,451.8 L345.5,451.8 L347.0,451.8 L348.5,451.9 L350.0,451.9 L351.5,451.9 L353.0,451.9 L354.5,451.8 L356.0,451.8 L357.5,451.8 L359.0,451.8 L360.5,451.8 L362.0,451.7 L363.5,451.7 L365.0,451.7 L366.5,451.7 L368.0,451.7 L369.5,451.6 L371.0,451.6 L372.5,451.6 L374.0,451.6 L375.5,451.6 L377.0,451.6 L378.5,451.5 L380.0,451.5 L381.5,451.5 L383.0,451.5 L384.5,451.5 L386.0,451.4 L387.5,451.4 L389.0,451.4 L390.5,451.4 L392.0,451.4 L393.5,451.4 L395.1,451.4 L396.6,451.4 L398.1,451.4 L399.6,451.4 L401.1,451.4 L402.6,451.4 L404.1,451.4 L405.6,451.4 L407.2,451.4 L408.7,451.4 L410.2,451.4 L411.7,451.4 L413.2,451.4 L414.7,451.4 L416.2,451.4 L417.7,451.4 L419.3,451.4 L420.8,451.4 L422.3,451.4 L423.8,451.4 L425.3,451.4 L426.8,451.4 L428.3,451.4 L429.8,451.4 L431.4,451.4 L432.9,451.4 L434.4,451.4 L435.9,451.4 L437.4,451.4 L438.9,451.4 L440.4,451.4 L441.9,451.4 L443.5,451.4 L445.0,451.4 L446.5,451.4 L448.0,451.4 L449.5,451.4 L451.0,451.4 L452.5,451.4 L454.0,451.3 L455.5,451.3 L457.0,451.3 L458.5,451.3 L460.0,451.3 L461.5,451.3 L463.1,451.3 L464.6,451.3 L466.1,451.2 L467.6,451.2 L469.1,451.2 L470.6,451.2 L472.1,451.2 L473.6,451.2 L475.1,451.2 L476.6,451.2 L478.1,451.1 L479.6,451.1 L481.1,451.1 L482.6,451.1 L484.1,451.1 L485.6,451.1 L487.1,451.1 L488.6,451.1 L490.1,451.0 L491.6,451.0 L493.2,451.0 L494.7,451.0 L496.2,451.0 L497.7,451.0 L499.2,451.0 L500.7,451.0 L502.2,450.9 L503.7,450.9 L505.2,450.9 L506.7,450.9 L508.2,450.8 L509.7,450.8 L511.2,450.7 L512.8,450.6 L514.3,450.6 L515.8,450.5 L517.3,450.5 L518.8,450.4 L520.3,450.3 L521.8,450.3 L523.4,450.2 L524.9,450.1 L526.4,450.1 L527.9,450.0 L529.4,449.9 L530.9,449.9 L532.4,449.8 L533.9,449.8 L535.5,449.7 L537.0,449.6 L538.5,449.6 L540.0,449.5 L541.5,449.1 L543.0,448.2 L544.5,447.6 L546.0,448.1 L547.9,447.8 L549.9,446.6 L551.8,447.0 L553.5,445.6 L555.1,445.3 L557.2,444.4 L559.3,444.5 L561.8,441.1 L563.5,439.4 L565.2,439.4 L567.7,441.1 L569.7,440.8 L571.6,440.5 L573.6,440.3 L575.3,439.9 L577.0,438.2 L578.6,437.4 L580.3,436.1 L582.4,434.4 L584.5,432.7 L587.0,426.8 L589.0,422.6 L590.4,428.5 L592.9,435.2 L595.0,435.1 L597.1,434.4 L598.8,436.4 L600.4,438.6 L602.1,438.2 L603.8,439.5 L605.5,438.6 L607.2,437.8 L608.8,435.8 L610.5,433.5 L612.6,431.4 L614.7,428.5 L616.8,426.9 L618.9,426.0 L621.0,426.8 L623.1,428.5 L625.2,426.4 L627.3,425.1 L629.0,423.3 L630.6,423.5 L632.3,421.8 L634.0,421.0 L635.7,420.7 L637.4,418.9 L639.1,418.1 L640.8,419.6 L642.4,420.1 L644.1,420.1 L645.8,419.4 L647.5,420.0 L649.1,421.5 L650.8,421.0 L652.5,422.9 L654.1,425.7 L655.8,426.8 L657.5,428.0 L659.2,428.8 L660.9,431.0 L662.5,430.8 L664.2,430.2 L665.9,431.3 L667.6,431.0 L669.3,431.3 L671.0,432.7 L672.7,431.1 L674.4,431.0 L676.0,429.4 L677.7,427.7 L679.4,428.1 L681.0,429.3 L682.7,430.1 L684.4,431.9 L686.1,432.6 L687.8,435.3 L689.4,435.7 L691.1,437.7 L692.8,439.1 L694.5,440.2 L696.1,441.0 L697.8,442.8 L699.5,444.1 L701.2,443.8 L702.9,445.3 L704.6,444.7 L706.2,442.9 L707.9,442.8 L709.6,441.8 L711.2,440.6 L712.9,439.8 L714.6,439.4 L716.4,440.9 L718.2,441.3 L720.0,441.5 L721.7,441.7 L723.4,443.4 L725.0,442.8 L726.7,443.7 L728.4,444.5 L730.1,444.5 L731.8,443.4 L733.4,441.7 L735.1,442.7 L736.8,441.1 L738.5,441.9 L740.1,443.3 L741.8,445.0 L743.5,445.4 L745.2,444.5 L746.9,444.4 L748.5,443.9 L750.2,443.9 L751.9,444.7 L753.6,444.5 L755.3,443.5 L757.0,443.5 L758.7,442.6 L760.3,442.1 L762.0,442.5 L763.7,441.1 L765.4,440.8 L767.0,440.7 L768.7,441.0 L770.4,439.6 L772.1,439.3 L773.7,440.4 L775.4,439.4 L777.1,439.6 L778.8,438.3 L780.4,437.8 L782.1,438.5 L783.8,437.7 L785.5,438.7 L787.2,437.6 L788.9,439.2 L790.5,439.4 L792.2,439.1 L793.9,439.0 L795.6,439.4 L797.3,438.7 L798.9,438.6 L800.6,440.2 L802.3,438.9 L804.0,439.8 L805.6,439.0 L807.3,439.4 L809.0,440.2 L810.6,440.0 L812.3,439.7 L814.0,439.7 L815.7,440.9 L817.4,439.9 L819.0,440.4 L820.7,441.1 L822.2,441.2 L823.7,441.7 L825.2,441.3 L826.7,440.7 L828.2,441.9 L829.7,440.6 L831.2,440.2 L832.7,440.7 L834.2,441.1 L835.9,440.2 L837.6,438.6 L839.2,438.0 L840.9,437.5 L842.6,436.9 L844.3,436.7 L845.9,435.7 L847.6,435.8 L849.3,436.5 L850.9,436.3 L852.6,435.2 L854.3,435.1 L856.0,434.9 L857.6,434.3 L859.3,433.2 L861.0,433.5 L862.7,431.8 L864.4,431.0 L866.1,431.8 L867.8,430.2 L869.7,428.6 L871.7,427.1 L873.6,424.3 L875.7,424.7 L877.8,426.8 L879.5,427.5 L881.1,427.6 L882.8,428.5 L884.5,428.5 L886.5,429.0 L888.4,430.2 L889.9,430.0 L891.4,427.3 L893.0,427.0 L894.5,426.3 L896.0,424.8 L897.9,426.2 L899.9,426.6 L901.8,426.8 L903.5,427.2 L905.2,427.3 L906.8,427.5 L908.5,426.5 L910.2,426.8 L911.9,428.6 L913.5,430.5 L915.2,431.9 L916.9,432.7 L918.6,433.0 L920.3,434.1 L921.9,434.7 L923.6,434.6 L925.3,434.9 L927.0,434.8 L928.7,434.1 L930.3,434.2 L932.0,434.0 L933.7,433.5 L935.4,431.7 L937.1,431.8 L938.7,431.4 L940.4,430.2 L942.1,428.5 L943.8,427.4 L945.5,425.3 L947.1,424.5 L948.8,422.6 L950.5,423.9 L952.2,424.8 L953.9,426.0 L955.6,427.0 L957.2,426.1 L958.9,427.7 L960.6,427.7 L962.3,427.7 L964.0,429.5 L965.6,430.1 L967.3,431.0 L969.0,431.6 L970.6,433.5 L972.3,434.1 L974.0,435.2 L975.7,436.3 L977.4,437.7 L979.0,437.3 L980.7,438.6 L982.7,438.6 L984.6,439.9 L986.6,441.1 L988.3,440.3 L990.0,438.3 L991.7,437.7 L993.6,435.7 L995.6,435.6 L997.5,433.5 L999.0,433.2 L1000.5,432.2 L1002.0,432.5 L1003.5,430.9 L1005.0,430.9 L1006.5,430.0 L1006.5,453.0 L8.0,453.0 Z" fill="#edf0f3"/>
<line x1="1006.2" y1="413" x2="1006.2" y2="453" stroke="#e3e6eb" stroke-width="1"/>
<g font-size="11.2" fill="#84878e" letter-spacing="0.45">
<text x="48.2" y="470" text-anchor="middle">2016</text>
<text x="149.1" y="470" text-anchor="middle">2017</text>
<text x="250.0" y="470" text-anchor="middle">2018</text>
<text x="350.9" y="470" text-anchor="middle">2019</text>
<text x="451.8" y="470" text-anchor="middle">2020</text>
<text x="552.7" y="470" text-anchor="middle">2021</text>
<text x="653.6" y="470" text-anchor="middle">2022</text>
<text x="754.5" y="470" text-anchor="middle">2023</text>
<text x="855.4" y="470" text-anchor="middle">2024</text>
<text x="956.3" y="470" text-anchor="middle">2025</text>
</g>
<!-- handle -->
<rect x="998.5" y="424" width="15" height="18.5" rx="7.5" fill="#fff" style="filter:drop-shadow(0 1px 3px rgba(0,0,0,0.18))"/>
<g stroke="#8d94a3" stroke-width="1"><line x1="1004.3" y1="430.5" x2="1004.3" y2="436.5"/><line x1="1006.8" y1="430.5" x2="1006.8" y2="436.5"/></g>
<!-- ethereum badge -->
<path d="M929,384.3 L933,380.3 L937,384.3 Z" fill="#7b3fe4"/>
<rect x="860.8" y="384.2" width="144" height="24.3" rx="12.15" fill="#7b3fe4"/>
<path d="M874.5,390 L868.5,397.5 L872.8,397.5 L871.2,402.5 L877.5,395 L873.2,395 Z" fill="none" stroke="#fff" stroke-width="1.3" stroke-linejoin="round"/>
<text x="883.6" y="400.6" font-size="12" fill="#fff" stroke="#fff" stroke-width="0.4" letter-spacing="-0.2">Ethereum's growing...</text>
</svg>
</body></html>
